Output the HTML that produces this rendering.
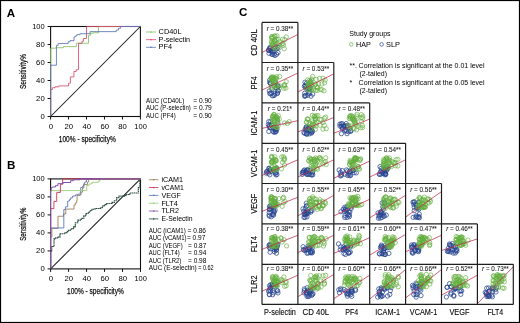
<!DOCTYPE html>
<html><head><meta charset="utf-8"><style>
html,body{margin:0;padding:0;background:#fff;}
body{width:520px;height:323px;overflow:hidden;}
svg{display:block;font-family:"Liberation Sans", sans-serif;will-change:transform;}
</style></head><body>
<svg width="520" height="323" viewBox="0 0 520 323" font-family='"Liberation Sans", sans-serif'>
<rect width="520" height="323" fill="#fff"/>
<text x="6.80" y="16.90" font-size="11.6" font-weight="bold" fill="#000">A</text>
<text x="6.90" y="168.80" font-size="11.6" font-weight="bold" fill="#000">B</text>
<text x="238.90" y="16.30" font-size="11.6" font-weight="bold" fill="#000">C</text>
<line x1="50.60" y1="116.50" x2="140.40" y2="26.50" stroke="#1a1a1a" stroke-width="1.05"/>
<rect x="50.60" y="26.50" width="89.80" height="90.00" fill="none" stroke="#111" stroke-width="1.1"/>
<polyline points="50.60,116.50 50.60,48.19 55.63,48.19 55.63,47.74 63.35,47.74 63.35,46.66 76.37,46.66 76.37,43.24 88.50,43.24 88.50,35.32 90.47,35.32 90.47,33.25 93.26,33.25 93.26,32.80 98.46,32.80 98.46,26.50 140.40,26.50" fill="none" stroke="#84c060" stroke-width="0.85" />
<polyline points="50.60,116.50 50.60,89.50 52.40,89.50 52.40,87.70 55.09,87.70 55.09,86.80 58.68,86.80 58.68,85.90 68.56,85.90 68.56,83.20 70.36,83.20 70.36,76.90 73.95,76.90 73.95,71.50 76.19,71.50 76.19,69.70 78.53,69.70 78.53,43.33 82.03,43.33 82.03,41.26 83.38,41.26 83.38,38.47 86.52,38.47 86.52,26.50 140.40,26.50" fill="none" stroke="#d84a6c" stroke-width="0.85" />
<polyline points="50.60,116.50 50.60,65.20 56.44,65.20 56.44,45.40 58.14,45.40 58.14,43.60 68.11,43.60 68.11,41.71 70.00,41.71 70.00,40.63 74.04,40.63 74.04,36.94 75.21,36.94 75.21,36.13 76.37,36.13 76.37,35.14 77.18,35.14 77.18,34.60 79.96,34.60 79.96,33.70 90.02,33.70 90.02,31.63 116.15,31.63 116.15,30.10 118.40,30.10 118.40,28.30 120.46,28.30 120.46,26.50 140.40,26.50" fill="none" stroke="#5a74b4" stroke-width="0.85" />
<line x1="47.60" y1="116.50" x2="50.60" y2="116.50" stroke="#111" stroke-width="1"/>
<line x1="50.60" y1="116.50" x2="50.60" y2="119.50" stroke="#111" stroke-width="1"/>
<text x="40.40" y="119.00" font-size="7.8" textLength="4.30" lengthAdjust="spacingAndGlyphs">0</text>
<text x="48.65" y="129.00" font-size="7.8" textLength="4.30" lengthAdjust="spacingAndGlyphs">0</text>
<line x1="47.60" y1="98.50" x2="50.60" y2="98.50" stroke="#111" stroke-width="1"/>
<line x1="68.56" y1="116.50" x2="68.56" y2="119.50" stroke="#111" stroke-width="1"/>
<text x="36.10" y="101.00" font-size="7.8" textLength="8.60" lengthAdjust="spacingAndGlyphs">20</text>
<text x="64.46" y="129.00" font-size="7.8" textLength="8.60" lengthAdjust="spacingAndGlyphs">20</text>
<line x1="47.60" y1="80.50" x2="50.60" y2="80.50" stroke="#111" stroke-width="1"/>
<line x1="86.52" y1="116.50" x2="86.52" y2="119.50" stroke="#111" stroke-width="1"/>
<text x="36.10" y="83.00" font-size="7.8" textLength="8.60" lengthAdjust="spacingAndGlyphs">40</text>
<text x="82.42" y="129.00" font-size="7.8" textLength="8.60" lengthAdjust="spacingAndGlyphs">40</text>
<line x1="47.60" y1="62.50" x2="50.60" y2="62.50" stroke="#111" stroke-width="1"/>
<line x1="104.48" y1="116.50" x2="104.48" y2="119.50" stroke="#111" stroke-width="1"/>
<text x="36.10" y="65.00" font-size="7.8" textLength="8.60" lengthAdjust="spacingAndGlyphs">60</text>
<text x="100.38" y="129.00" font-size="7.8" textLength="8.60" lengthAdjust="spacingAndGlyphs">60</text>
<line x1="47.60" y1="44.50" x2="50.60" y2="44.50" stroke="#111" stroke-width="1"/>
<line x1="122.44" y1="116.50" x2="122.44" y2="119.50" stroke="#111" stroke-width="1"/>
<text x="36.10" y="47.00" font-size="7.8" textLength="8.60" lengthAdjust="spacingAndGlyphs">80</text>
<text x="118.34" y="129.00" font-size="7.8" textLength="8.60" lengthAdjust="spacingAndGlyphs">80</text>
<line x1="47.60" y1="26.50" x2="50.60" y2="26.50" stroke="#111" stroke-width="1"/>
<line x1="140.40" y1="116.50" x2="140.40" y2="119.50" stroke="#111" stroke-width="1"/>
<text x="32.20" y="29.00" font-size="7.8" textLength="12.50" lengthAdjust="spacingAndGlyphs">100</text>
<text x="134.35" y="129.00" font-size="7.8" textLength="12.50" lengthAdjust="spacingAndGlyphs">100</text>
<text x="26.40" y="71.50" font-size="9.6" textLength="35.00" lengthAdjust="spacingAndGlyphs" text-anchor="middle" transform="rotate(-90 26.40 71.50)" style="stroke:#1a1a1a;stroke-width:0.25px">Sensitivity%</text>
<text x="58.80" y="141.80" font-size="9.6" textLength="57.00" lengthAdjust="spacingAndGlyphs" style="stroke:#1a1a1a;stroke-width:0.25px">100% - specificity%</text>
<line x1="146.00" y1="32.00" x2="156.00" y2="32.00" stroke="#84c060" stroke-width="0.8"/>
<rect x="150.3" y="31.40" width="1.3" height="1.2" fill="#84c060"/>
<text x="158.60" y="34.00" font-size="7.5" textLength="23.00" lengthAdjust="spacingAndGlyphs">CD40L</text>
<line x1="146.00" y1="39.65" x2="156.00" y2="39.65" stroke="#d84a6c" stroke-width="0.8"/>
<rect x="150.3" y="39.05" width="1.3" height="1.2" fill="#d84a6c"/>
<text x="158.60" y="41.65" font-size="7.5" textLength="31.50" lengthAdjust="spacingAndGlyphs">P-selectin</text>
<line x1="146.00" y1="47.30" x2="156.00" y2="47.30" stroke="#5a74b4" stroke-width="0.8"/>
<rect x="150.3" y="46.70" width="1.3" height="1.2" fill="#5a74b4"/>
<text x="158.60" y="49.30" font-size="7.5" textLength="13.50" lengthAdjust="spacingAndGlyphs">PF4</text>
<text x="146.00" y="102.90" font-size="6.6" textLength="38.30" lengthAdjust="spacingAndGlyphs">AUC (CD40L)</text>
<text x="193.20" y="102.90" font-size="6.6" textLength="18.60" lengthAdjust="spacingAndGlyphs">= 0.90</text>
<text x="146.00" y="110.20" font-size="6.6" textLength="44.80" lengthAdjust="spacingAndGlyphs">AUC (P-selectin)</text>
<text x="193.20" y="110.20" font-size="6.6" textLength="18.60" lengthAdjust="spacingAndGlyphs">= 0.79</text>
<text x="146.00" y="117.50" font-size="6.6" textLength="29.80" lengthAdjust="spacingAndGlyphs">AUC (PF4)</text>
<text x="193.20" y="117.50" font-size="6.6" textLength="18.60" lengthAdjust="spacingAndGlyphs">= 0.90</text>
<line x1="50.60" y1="268.90" x2="140.50" y2="178.90" stroke="#1a1a1a" stroke-width="1.05"/>
<rect x="50.60" y="178.90" width="89.90" height="90.00" fill="none" stroke="#111" stroke-width="1.1"/>
<polyline points="50.60,268.90 50.60,251.60 51.70,251.60 51.70,246.50 54.00,246.50 54.00,238.90 55.70,238.90 55.70,237.90 58.20,237.90 58.20,237.10 59.90,237.10 59.90,233.70 65.00,233.70 65.00,232.90 66.70,232.90 66.70,231.60 68.40,231.60 68.40,230.30 71.00,230.30 71.00,228.60 73.60,228.60 73.60,226.90 75.30,226.90 75.30,222.70 77.80,222.70 77.80,220.10 81.20,220.10 81.20,218.40 83.80,218.40 83.80,215.90 86.00,215.90 86.00,213.50 88.10,213.50 88.10,212.30 90.00,212.30 90.00,210.50 92.00,210.50 92.00,209.20 95.00,209.20 95.00,208.50 100.50,208.50 100.50,207.70 102.50,207.70 102.50,206.00 104.30,206.00 104.30,204.60 106.60,204.60 106.60,203.50 112.00,203.50 112.00,202.30 114.40,202.30 114.40,200.70 116.70,200.70 116.70,197.60 119.00,197.60 119.00,196.10 124.50,196.10 124.50,195.30 126.70,195.30 126.70,194.50 129.80,194.50 129.80,193.00 138.30,193.00 138.30,187.60 139.90,187.60 139.90,178.90 140.50,178.90" fill="none" stroke="#27493a" stroke-width="1.15" stroke-dasharray="1.4 0.45"/>
<polyline points="50.60,268.90 50.60,236.95 51.86,236.95 51.86,228.40 57.97,228.40 57.97,216.25 63.46,216.25 63.46,214.00 65.79,214.00 65.79,209.05 73.97,209.05 73.97,205.00 75.32,205.00 75.32,202.84 76.67,202.84 76.67,200.50 77.12,200.50 77.12,195.46 80.27,195.46 80.27,194.65 81.17,194.65 81.17,192.13 82.51,192.13 82.51,187.90 83.86,187.90 83.86,184.57 87.46,184.57 87.46,182.05 88.63,182.05 88.63,178.90 140.50,178.90" fill="none" stroke="#9a7a50" stroke-width="0.85" />
<polyline points="50.60,268.90 50.60,227.95 63.82,227.95 63.82,209.50 65.43,209.50 65.43,206.80 67.68,206.80 67.68,201.04 69.48,201.04 69.48,199.60 70.65,199.60 70.65,197.80 72.63,197.80 72.63,196.00 75.59,196.00 75.59,194.83 77.57,194.83 77.57,194.20 80.18,194.20 80.18,192.40 80.72,192.40 80.72,187.45 82.60,187.45 82.60,186.10 83.77,186.10 83.77,183.67 84.76,183.67 84.76,182.05 86.38,182.05 86.38,179.98 86.83,179.98 86.83,178.90 140.50,178.90" fill="none" stroke="#5070b8" stroke-width="0.85" />
<polyline points="50.60,268.90 50.60,190.60 86.74,190.60 86.74,185.65 87.91,185.65 87.91,185.20 89.26,185.20 89.26,183.85 91.95,183.85 91.95,182.32 98.25,182.32 98.25,181.15 99.60,181.15 99.60,179.80 101.39,179.80 101.39,178.90 140.50,178.90" fill="none" stroke="#90cc70" stroke-width="0.85" />
<polyline points="50.60,268.90 50.60,208.60 53.93,208.60 53.93,201.40 56.71,201.40 56.71,192.40 60.40,192.40 60.40,184.30 62.56,184.30 62.56,178.90 140.50,178.90" fill="none" stroke="#d02850" stroke-width="0.85" />
<polyline points="50.60,268.90 50.60,191.14 51.14,191.14 51.14,187.90 52.22,187.90 52.22,187.00 55.45,187.00 55.45,185.65 57.88,185.65 57.88,183.67 63.19,183.67 63.19,182.50 70.56,182.50 70.56,180.70 73.52,180.70 73.52,179.80 79.82,179.80 79.82,178.90 140.50,178.90" fill="none" stroke="#7f4fae" stroke-width="1.0" />
<line x1="47.60" y1="268.90" x2="50.60" y2="268.90" stroke="#111" stroke-width="1"/>
<line x1="50.60" y1="268.90" x2="50.60" y2="271.90" stroke="#111" stroke-width="1"/>
<text x="40.40" y="271.40" font-size="7.8" textLength="4.30" lengthAdjust="spacingAndGlyphs">0</text>
<text x="48.65" y="281.40" font-size="7.8" textLength="4.30" lengthAdjust="spacingAndGlyphs">0</text>
<line x1="47.60" y1="250.90" x2="50.60" y2="250.90" stroke="#111" stroke-width="1"/>
<line x1="68.58" y1="268.90" x2="68.58" y2="271.90" stroke="#111" stroke-width="1"/>
<text x="36.10" y="253.40" font-size="7.8" textLength="8.60" lengthAdjust="spacingAndGlyphs">20</text>
<text x="64.48" y="281.40" font-size="7.8" textLength="8.60" lengthAdjust="spacingAndGlyphs">20</text>
<line x1="47.60" y1="232.90" x2="50.60" y2="232.90" stroke="#111" stroke-width="1"/>
<line x1="86.56" y1="268.90" x2="86.56" y2="271.90" stroke="#111" stroke-width="1"/>
<text x="36.10" y="235.40" font-size="7.8" textLength="8.60" lengthAdjust="spacingAndGlyphs">40</text>
<text x="82.46" y="281.40" font-size="7.8" textLength="8.60" lengthAdjust="spacingAndGlyphs">40</text>
<line x1="47.60" y1="214.90" x2="50.60" y2="214.90" stroke="#111" stroke-width="1"/>
<line x1="104.54" y1="268.90" x2="104.54" y2="271.90" stroke="#111" stroke-width="1"/>
<text x="36.10" y="217.40" font-size="7.8" textLength="8.60" lengthAdjust="spacingAndGlyphs">60</text>
<text x="100.44" y="281.40" font-size="7.8" textLength="8.60" lengthAdjust="spacingAndGlyphs">60</text>
<line x1="47.60" y1="196.90" x2="50.60" y2="196.90" stroke="#111" stroke-width="1"/>
<line x1="122.52" y1="268.90" x2="122.52" y2="271.90" stroke="#111" stroke-width="1"/>
<text x="36.10" y="199.40" font-size="7.8" textLength="8.60" lengthAdjust="spacingAndGlyphs">80</text>
<text x="118.42" y="281.40" font-size="7.8" textLength="8.60" lengthAdjust="spacingAndGlyphs">80</text>
<line x1="47.60" y1="178.90" x2="50.60" y2="178.90" stroke="#111" stroke-width="1"/>
<line x1="140.50" y1="268.90" x2="140.50" y2="271.90" stroke="#111" stroke-width="1"/>
<text x="32.20" y="181.40" font-size="7.8" textLength="12.50" lengthAdjust="spacingAndGlyphs">100</text>
<text x="134.45" y="281.40" font-size="7.8" textLength="12.50" lengthAdjust="spacingAndGlyphs">100</text>
<text x="26.40" y="224.20" font-size="9.6" textLength="33.30" lengthAdjust="spacingAndGlyphs" text-anchor="middle" transform="rotate(-90 26.40 224.20)" style="stroke:#1a1a1a;stroke-width:0.25px">Sensitivity%</text>
<text x="67.00" y="294.00" font-size="9.6" textLength="56.80" lengthAdjust="spacingAndGlyphs" style="stroke:#1a1a1a;stroke-width:0.25px">100% - specificity%</text>
<line x1="148.90" y1="179.70" x2="158.40" y2="179.70" stroke="#9a7a50" stroke-width="0.8"/>
<rect x="153.0" y="179.10" width="1.3" height="1.2" fill="#9a7a50"/>
<text x="161.40" y="182.00" font-size="7.5" textLength="21.50" lengthAdjust="spacingAndGlyphs">iCAM1</text>
<line x1="148.90" y1="187.54" x2="158.40" y2="187.54" stroke="#d02850" stroke-width="0.8"/>
<rect x="153.0" y="186.94" width="1.3" height="1.2" fill="#d02850"/>
<text x="161.40" y="189.84" font-size="7.5" textLength="22.50" lengthAdjust="spacingAndGlyphs">vCAM1</text>
<line x1="148.90" y1="195.38" x2="158.40" y2="195.38" stroke="#5070b8" stroke-width="0.8"/>
<rect x="153.0" y="194.78" width="1.3" height="1.2" fill="#5070b8"/>
<text x="161.40" y="197.68" font-size="7.5" textLength="19.50" lengthAdjust="spacingAndGlyphs">VEGF</text>
<line x1="148.90" y1="203.22" x2="158.40" y2="203.22" stroke="#90cc70" stroke-width="0.8"/>
<rect x="153.0" y="202.62" width="1.3" height="1.2" fill="#90cc70"/>
<text x="161.40" y="205.52" font-size="7.5" textLength="16.50" lengthAdjust="spacingAndGlyphs">FLT4</text>
<line x1="148.90" y1="211.06" x2="158.40" y2="211.06" stroke="#7f4fae" stroke-width="0.8"/>
<rect x="153.0" y="210.46" width="1.3" height="1.2" fill="#7f4fae"/>
<text x="161.40" y="213.36" font-size="7.5" textLength="17.50" lengthAdjust="spacingAndGlyphs">TLR2</text>
<line x1="148.90" y1="218.90" x2="158.40" y2="218.90" stroke="#27493a" stroke-width="0.8"/>
<rect x="153.0" y="218.30" width="1.3" height="1.2" fill="#27493a"/>
<text x="161.40" y="221.20" font-size="7.5" textLength="31.20" lengthAdjust="spacingAndGlyphs">E-Selectin</text>
<text x="148.70" y="232.60" font-size="6.4" textLength="37.10" lengthAdjust="spacingAndGlyphs">AUC (iCAM1)</text>
<text x="187.60" y="232.60" font-size="6.4" textLength="18.40" lengthAdjust="spacingAndGlyphs">= 0.86</text>
<text x="148.70" y="240.10" font-size="6.4" textLength="37.90" lengthAdjust="spacingAndGlyphs">AUC (vCAM1)</text>
<text x="186.90" y="240.10" font-size="6.4" textLength="18.40" lengthAdjust="spacingAndGlyphs">= 0.97</text>
<text x="148.70" y="247.60" font-size="6.4" textLength="34.00" lengthAdjust="spacingAndGlyphs">AUC (VEGF)</text>
<text x="188.00" y="247.60" font-size="6.4" textLength="18.40" lengthAdjust="spacingAndGlyphs">= 0.87</text>
<text x="148.70" y="255.10" font-size="6.4" textLength="30.90" lengthAdjust="spacingAndGlyphs">AUC (FLT4)</text>
<text x="188.00" y="255.10" font-size="6.4" textLength="18.40" lengthAdjust="spacingAndGlyphs">= 0.94</text>
<text x="148.70" y="262.60" font-size="6.4" textLength="32.50" lengthAdjust="spacingAndGlyphs">AUC (TLR2)</text>
<text x="188.00" y="262.60" font-size="6.4" textLength="18.40" lengthAdjust="spacingAndGlyphs">= 0.98</text>
<text x="148.70" y="270.10" font-size="6.4" textLength="48.00" lengthAdjust="spacingAndGlyphs">AUC (E-selectin)</text>
<text x="198.20" y="270.10" font-size="6.4" textLength="15.50" lengthAdjust="spacingAndGlyphs">= 0.62</text>
<defs>
<clipPath id="c00"><rect x="262.00" y="22.45" width="35.90" height="40.05"/></clipPath>
<clipPath id="c10"><rect x="262.00" y="62.50" width="35.90" height="40.45"/></clipPath>
<clipPath id="c11"><rect x="297.90" y="62.50" width="35.90" height="40.45"/></clipPath>
<clipPath id="c20"><rect x="262.00" y="102.95" width="35.90" height="40.35"/></clipPath>
<clipPath id="c21"><rect x="297.90" y="102.95" width="35.90" height="40.35"/></clipPath>
<clipPath id="c22"><rect x="333.80" y="102.95" width="35.90" height="40.35"/></clipPath>
<clipPath id="c30"><rect x="262.00" y="143.30" width="35.90" height="40.20"/></clipPath>
<clipPath id="c31"><rect x="297.90" y="143.30" width="35.90" height="40.20"/></clipPath>
<clipPath id="c32"><rect x="333.80" y="143.30" width="35.90" height="40.20"/></clipPath>
<clipPath id="c33"><rect x="369.70" y="143.30" width="35.90" height="40.20"/></clipPath>
<clipPath id="c40"><rect x="262.00" y="183.50" width="35.90" height="40.45"/></clipPath>
<clipPath id="c41"><rect x="297.90" y="183.50" width="35.90" height="40.45"/></clipPath>
<clipPath id="c42"><rect x="333.80" y="183.50" width="35.90" height="40.45"/></clipPath>
<clipPath id="c43"><rect x="369.70" y="183.50" width="35.90" height="40.45"/></clipPath>
<clipPath id="c44"><rect x="405.60" y="183.50" width="35.90" height="40.45"/></clipPath>
<clipPath id="c50"><rect x="262.00" y="223.95" width="35.90" height="40.35"/></clipPath>
<clipPath id="c51"><rect x="297.90" y="223.95" width="35.90" height="40.35"/></clipPath>
<clipPath id="c52"><rect x="333.80" y="223.95" width="35.90" height="40.35"/></clipPath>
<clipPath id="c53"><rect x="369.70" y="223.95" width="35.90" height="40.35"/></clipPath>
<clipPath id="c54"><rect x="405.60" y="223.95" width="35.90" height="40.35"/></clipPath>
<clipPath id="c55"><rect x="441.50" y="223.95" width="35.90" height="40.35"/></clipPath>
<clipPath id="c60"><rect x="262.00" y="264.30" width="35.90" height="40.10"/></clipPath>
<clipPath id="c61"><rect x="297.90" y="264.30" width="35.90" height="40.10"/></clipPath>
<clipPath id="c62"><rect x="333.80" y="264.30" width="35.90" height="40.10"/></clipPath>
<clipPath id="c63"><rect x="369.70" y="264.30" width="35.90" height="40.10"/></clipPath>
<clipPath id="c64"><rect x="405.60" y="264.30" width="35.90" height="40.10"/></clipPath>
<clipPath id="c65"><rect x="441.50" y="264.30" width="35.90" height="40.10"/></clipPath>
<clipPath id="c66"><rect x="477.40" y="264.30" width="35.90" height="40.10"/></clipPath>
</defs>
<g clip-path="url(#c00)" fill="none" stroke-width="0.65">
<g stroke="#284690" stroke-width="0.75">
<circle cx="274.9" cy="55.5" r="2.15"/>
<circle cx="276.7" cy="48.8" r="2.15"/>
<circle cx="272.3" cy="52.4" r="2.15"/>
<circle cx="268.7" cy="50.4" r="2.15"/>
<circle cx="270.1" cy="47.2" r="2.15"/>
<circle cx="269.0" cy="53.3" r="2.15"/>
<circle cx="269.7" cy="48.4" r="2.15"/>
<circle cx="272.4" cy="54.3" r="2.15"/>
<circle cx="269.3" cy="50.3" r="2.15"/>
<circle cx="273.9" cy="54.4" r="2.15"/>
<circle cx="276.6" cy="54.3" r="2.15"/>
<circle cx="271.2" cy="50.0" r="2.15"/>
<circle cx="272.0" cy="54.4" r="2.15"/>
<circle cx="278.0" cy="47.5" r="2.15"/>
<circle cx="270.2" cy="48.3" r="2.15"/>
<circle cx="270.8" cy="50.7" r="2.15"/>
<circle cx="274.3" cy="48.5" r="2.15"/>
<circle cx="268.5" cy="50.0" r="2.15"/>
<circle cx="272.1" cy="51.4" r="2.15"/>
<circle cx="278.0" cy="52.6" r="2.15"/>
<circle cx="273.6" cy="51.9" r="2.15"/>
<circle cx="275.2" cy="46.6" r="2.15"/>
</g>
<g stroke="#64ae40">
<circle cx="273.2" cy="37.3" r="2.15"/>
<circle cx="275.1" cy="36.2" r="2.15"/>
<circle cx="274.5" cy="40.5" r="2.15"/>
<circle cx="271.7" cy="42.5" r="2.15"/>
<circle cx="271.6" cy="41.4" r="2.15"/>
<circle cx="271.8" cy="36.5" r="2.15"/>
<circle cx="273.8" cy="47.1" r="2.15"/>
<circle cx="272.1" cy="38.4" r="2.15"/>
<circle cx="275.0" cy="48.9" r="2.15"/>
<circle cx="274.7" cy="40.9" r="2.15"/>
<circle cx="277.0" cy="35.8" r="2.15"/>
<circle cx="276.3" cy="39.3" r="2.15"/>
<circle cx="272.2" cy="36.9" r="2.15"/>
<circle cx="273.1" cy="47.0" r="2.15"/>
<circle cx="272.4" cy="43.6" r="2.15"/>
<circle cx="275.1" cy="40.5" r="2.15"/>
<circle cx="274.5" cy="36.1" r="2.15"/>
<circle cx="271.7" cy="38.1" r="2.15"/>
<circle cx="275.3" cy="41.4" r="2.15"/>
<circle cx="273.2" cy="43.6" r="2.15"/>
<circle cx="278.3" cy="39.5" r="2.15"/>
<circle cx="283.5" cy="45.3" r="2.15"/>
<circle cx="275.1" cy="43.5" r="2.15"/>
<circle cx="279.4" cy="47.8" r="2.15"/>
<circle cx="282.5" cy="39.3" r="2.15"/>
<circle cx="286.3" cy="36.9" r="2.15"/>
<circle cx="277.7" cy="46.1" r="2.15"/>
<circle cx="273.7" cy="42.2" r="2.15"/>
<circle cx="271.9" cy="44.8" r="2.15"/>
<circle cx="283.0" cy="43.5" r="2.15"/>
<circle cx="284.7" cy="39.7" r="2.15"/>
<circle cx="282.0" cy="43.8" r="2.15"/>
<circle cx="280.2" cy="41.8" r="2.15"/>
<circle cx="284.2" cy="48.8" r="2.15"/>
<circle cx="278.6" cy="44.8" r="2.15"/>
<circle cx="272.3" cy="45.3" r="2.15"/>
</g>
<line x1="262.00" y1="52.49" x2="297.90" y2="34.46" stroke="#c22c4c" stroke-width="0.75"/>
</g>
<text x="266.65" y="30.60" font-size="6.4" textLength="26.6" lengthAdjust="spacingAndGlyphs" fill="#1a1a1a" style="stroke:#1a1a1a;stroke-width:0.08px"><tspan font-style="italic">r</tspan> = 0.38**</text>
<g clip-path="url(#c10)" fill="none" stroke-width="0.65">
<g stroke="#284690" stroke-width="0.75">
<circle cx="277.9" cy="86.0" r="2.15"/>
<circle cx="270.6" cy="83.7" r="2.15"/>
<circle cx="270.4" cy="83.3" r="2.15"/>
<circle cx="274.6" cy="95.0" r="2.15"/>
<circle cx="276.8" cy="87.9" r="2.15"/>
<circle cx="274.9" cy="93.3" r="2.15"/>
<circle cx="269.3" cy="90.9" r="2.15"/>
<circle cx="277.5" cy="93.0" r="2.15"/>
<circle cx="275.9" cy="87.9" r="2.15"/>
<circle cx="270.2" cy="93.1" r="2.15"/>
<circle cx="271.7" cy="93.3" r="2.15"/>
<circle cx="278.1" cy="86.5" r="2.15"/>
<circle cx="272.4" cy="95.8" r="2.15"/>
<circle cx="275.6" cy="82.7" r="2.15"/>
<circle cx="269.7" cy="82.4" r="2.15"/>
<circle cx="277.4" cy="93.4" r="2.15"/>
<circle cx="269.9" cy="93.7" r="2.15"/>
<circle cx="278.2" cy="90.9" r="2.15"/>
<circle cx="271.9" cy="89.1" r="2.15"/>
<circle cx="269.7" cy="80.1" r="2.15"/>
<circle cx="278.1" cy="90.8" r="2.15"/>
<circle cx="273.7" cy="95.5" r="2.15"/>
</g>
<g stroke="#64ae40">
<circle cx="276.5" cy="85.7" r="2.15"/>
<circle cx="276.4" cy="85.9" r="2.15"/>
<circle cx="273.5" cy="81.1" r="2.15"/>
<circle cx="271.8" cy="83.9" r="2.15"/>
<circle cx="271.5" cy="77.1" r="2.15"/>
<circle cx="272.4" cy="78.2" r="2.15"/>
<circle cx="273.2" cy="76.9" r="2.15"/>
<circle cx="271.2" cy="78.1" r="2.15"/>
<circle cx="271.8" cy="80.6" r="2.15"/>
<circle cx="271.3" cy="86.8" r="2.15"/>
<circle cx="274.8" cy="78.0" r="2.15"/>
<circle cx="272.7" cy="80.5" r="2.15"/>
<circle cx="273.3" cy="77.7" r="2.15"/>
<circle cx="276.2" cy="88.3" r="2.15"/>
<circle cx="273.9" cy="82.1" r="2.15"/>
<circle cx="271.7" cy="77.5" r="2.15"/>
<circle cx="273.2" cy="79.5" r="2.15"/>
<circle cx="276.1" cy="78.2" r="2.15"/>
<circle cx="271.3" cy="87.8" r="2.15"/>
<circle cx="274.3" cy="78.0" r="2.15"/>
<circle cx="279.7" cy="76.6" r="2.15"/>
<circle cx="279.4" cy="88.1" r="2.15"/>
<circle cx="284.7" cy="84.7" r="2.15"/>
<circle cx="275.2" cy="80.7" r="2.15"/>
<circle cx="273.8" cy="85.6" r="2.15"/>
<circle cx="279.5" cy="85.7" r="2.15"/>
<circle cx="276.3" cy="78.9" r="2.15"/>
<circle cx="283.9" cy="88.2" r="2.15"/>
<circle cx="284.5" cy="86.0" r="2.15"/>
<circle cx="284.0" cy="85.2" r="2.15"/>
<circle cx="274.7" cy="82.5" r="2.15"/>
<circle cx="276.7" cy="76.6" r="2.15"/>
<circle cx="271.6" cy="79.6" r="2.15"/>
<circle cx="275.2" cy="84.6" r="2.15"/>
<circle cx="286.2" cy="81.7" r="2.15"/>
<circle cx="285.9" cy="88.2" r="2.15"/>
</g>
<line x1="262.00" y1="90.01" x2="297.90" y2="73.02" stroke="#c22c4c" stroke-width="0.75"/>
</g>
<text x="266.65" y="71.20" font-size="6.4" textLength="26.6" lengthAdjust="spacingAndGlyphs" fill="#1a1a1a" style="stroke:#1a1a1a;stroke-width:0.08px"><tspan font-style="italic">r</tspan> = 0.35**</text>
<g clip-path="url(#c11)" fill="none" stroke-width="0.65">
<g stroke="#284690" stroke-width="0.75">
<circle cx="307.6" cy="88.8" r="2.15"/>
<circle cx="312.7" cy="94.1" r="2.15"/>
<circle cx="305.6" cy="88.0" r="2.15"/>
<circle cx="308.6" cy="86.5" r="2.15"/>
<circle cx="305.9" cy="86.2" r="2.15"/>
<circle cx="310.4" cy="81.6" r="2.15"/>
<circle cx="309.0" cy="88.1" r="2.15"/>
<circle cx="304.4" cy="86.4" r="2.15"/>
<circle cx="309.6" cy="89.2" r="2.15"/>
<circle cx="304.8" cy="96.4" r="2.15"/>
<circle cx="311.0" cy="96.2" r="2.15"/>
<circle cx="305.1" cy="85.4" r="2.15"/>
<circle cx="304.6" cy="93.3" r="2.15"/>
<circle cx="306.5" cy="83.3" r="2.15"/>
<circle cx="307.8" cy="95.3" r="2.15"/>
<circle cx="311.2" cy="85.3" r="2.15"/>
<circle cx="305.5" cy="95.4" r="2.15"/>
<circle cx="309.1" cy="92.1" r="2.15"/>
<circle cx="305.0" cy="82.2" r="2.15"/>
<circle cx="310.1" cy="87.9" r="2.15"/>
<circle cx="304.9" cy="95.7" r="2.15"/>
<circle cx="309.6" cy="93.6" r="2.15"/>
</g>
<g stroke="#64ae40">
<circle cx="311.5" cy="89.3" r="2.15"/>
<circle cx="316.2" cy="79.4" r="2.15"/>
<circle cx="309.3" cy="80.6" r="2.15"/>
<circle cx="309.2" cy="85.0" r="2.15"/>
<circle cx="309.4" cy="82.5" r="2.15"/>
<circle cx="307.8" cy="89.9" r="2.15"/>
<circle cx="310.5" cy="83.1" r="2.15"/>
<circle cx="313.3" cy="89.8" r="2.15"/>
<circle cx="311.3" cy="90.0" r="2.15"/>
<circle cx="312.3" cy="84.2" r="2.15"/>
<circle cx="312.6" cy="76.5" r="2.15"/>
<circle cx="311.6" cy="79.0" r="2.15"/>
<circle cx="306.3" cy="88.2" r="2.15"/>
<circle cx="308.3" cy="83.4" r="2.15"/>
<circle cx="315.0" cy="84.6" r="2.15"/>
<circle cx="310.2" cy="84.0" r="2.15"/>
<circle cx="317.4" cy="88.0" r="2.15"/>
<circle cx="308.4" cy="84.7" r="2.15"/>
<circle cx="311.2" cy="80.4" r="2.15"/>
<circle cx="321.8" cy="83.9" r="2.15"/>
<circle cx="317.5" cy="87.6" r="2.15"/>
<circle cx="324.6" cy="82.9" r="2.15"/>
<circle cx="318.6" cy="83.8" r="2.15"/>
<circle cx="316.5" cy="86.6" r="2.15"/>
<circle cx="315.3" cy="84.2" r="2.15"/>
<circle cx="315.9" cy="90.4" r="2.15"/>
<circle cx="320.3" cy="89.4" r="2.15"/>
<circle cx="325.2" cy="80.1" r="2.15"/>
<circle cx="317.5" cy="90.4" r="2.15"/>
<circle cx="323.1" cy="78.3" r="2.15"/>
<circle cx="308.7" cy="82.9" r="2.15"/>
<circle cx="307.7" cy="79.9" r="2.15"/>
<circle cx="307.7" cy="86.3" r="2.15"/>
<circle cx="322.0" cy="89.7" r="2.15"/>
<circle cx="309.4" cy="87.0" r="2.15"/>
<circle cx="319.5" cy="78.4" r="2.15"/>
<circle cx="324.0" cy="90.8" r="2.15"/>
<circle cx="310.7" cy="90.5" r="2.15"/>
</g>
<line x1="297.90" y1="92.03" x2="333.80" y2="73.83" stroke="#c22c4c" stroke-width="0.75"/>
</g>
<text x="302.55" y="71.20" font-size="6.4" textLength="26.6" lengthAdjust="spacingAndGlyphs" fill="#1a1a1a" style="stroke:#1a1a1a;stroke-width:0.08px"><tspan font-style="italic">r</tspan> = 0.53**</text>
<g clip-path="url(#c20)" fill="none" stroke-width="0.65">
<g stroke="#284690" stroke-width="0.75">
<circle cx="273.0" cy="127.5" r="2.15"/>
<circle cx="270.3" cy="127.5" r="2.15"/>
<circle cx="268.4" cy="124.6" r="2.15"/>
<circle cx="269.2" cy="126.2" r="2.15"/>
<circle cx="268.8" cy="121.6" r="2.15"/>
<circle cx="271.3" cy="124.2" r="2.15"/>
<circle cx="274.0" cy="127.8" r="2.15"/>
<circle cx="275.6" cy="129.4" r="2.15"/>
<circle cx="275.3" cy="132.1" r="2.15"/>
<circle cx="272.1" cy="125.3" r="2.15"/>
<circle cx="277.9" cy="123.2" r="2.15"/>
<circle cx="275.4" cy="129.2" r="2.15"/>
<circle cx="268.8" cy="131.5" r="2.15"/>
<circle cx="277.0" cy="129.0" r="2.15"/>
<circle cx="275.5" cy="131.3" r="2.15"/>
<circle cx="269.7" cy="127.7" r="2.15"/>
<circle cx="273.2" cy="131.5" r="2.15"/>
<circle cx="276.2" cy="131.4" r="2.15"/>
<circle cx="274.0" cy="132.2" r="2.15"/>
<circle cx="275.0" cy="129.8" r="2.15"/>
<circle cx="270.6" cy="121.7" r="2.15"/>
<circle cx="269.6" cy="125.8" r="2.15"/>
</g>
<g stroke="#64ae40">
<circle cx="272.6" cy="125.9" r="2.15"/>
<circle cx="272.5" cy="126.0" r="2.15"/>
<circle cx="275.1" cy="118.9" r="2.15"/>
<circle cx="275.7" cy="126.9" r="2.15"/>
<circle cx="273.8" cy="116.0" r="2.15"/>
<circle cx="275.6" cy="117.5" r="2.15"/>
<circle cx="272.8" cy="116.4" r="2.15"/>
<circle cx="272.4" cy="117.0" r="2.15"/>
<circle cx="274.1" cy="118.4" r="2.15"/>
<circle cx="277.1" cy="118.2" r="2.15"/>
<circle cx="275.4" cy="116.7" r="2.15"/>
<circle cx="274.4" cy="114.5" r="2.15"/>
<circle cx="273.7" cy="114.5" r="2.15"/>
<circle cx="277.0" cy="121.7" r="2.15"/>
<circle cx="273.3" cy="120.7" r="2.15"/>
<circle cx="278.3" cy="115.7" r="2.15"/>
<circle cx="277.5" cy="120.1" r="2.15"/>
<circle cx="275.4" cy="125.6" r="2.15"/>
<circle cx="274.7" cy="121.1" r="2.15"/>
<circle cx="276.6" cy="127.6" r="2.15"/>
<circle cx="278.1" cy="125.6" r="2.15"/>
<circle cx="284.5" cy="122.9" r="2.15"/>
<circle cx="279.2" cy="119.0" r="2.15"/>
<circle cx="273.0" cy="116.0" r="2.15"/>
<circle cx="273.3" cy="124.3" r="2.15"/>
<circle cx="276.5" cy="116.5" r="2.15"/>
<circle cx="273.5" cy="125.7" r="2.15"/>
<circle cx="287.4" cy="123.4" r="2.15"/>
<circle cx="277.0" cy="117.5" r="2.15"/>
<circle cx="277.2" cy="120.5" r="2.15"/>
<circle cx="274.8" cy="120.3" r="2.15"/>
<circle cx="276.7" cy="127.3" r="2.15"/>
<circle cx="289.2" cy="121.7" r="2.15"/>
<circle cx="276.4" cy="127.4" r="2.15"/>
<circle cx="277.5" cy="119.1" r="2.15"/>
<circle cx="272.1" cy="119.4" r="2.15"/>
</g>
<line x1="262.00" y1="128.37" x2="297.90" y2="120.70" stroke="#c22c4c" stroke-width="0.75"/>
</g>
<text x="267.85" y="110.90" font-size="6.4" textLength="24.2" lengthAdjust="spacingAndGlyphs" fill="#1a1a1a" style="stroke:#1a1a1a;stroke-width:0.08px"><tspan font-style="italic">r</tspan> = 0.21*</text>
<g clip-path="url(#c21)" fill="none" stroke-width="0.65">
<g stroke="#284690" stroke-width="0.75">
<circle cx="305.1" cy="129.4" r="2.15"/>
<circle cx="306.6" cy="133.3" r="2.15"/>
<circle cx="303.9" cy="132.6" r="2.15"/>
<circle cx="311.2" cy="127.7" r="2.15"/>
<circle cx="311.9" cy="132.3" r="2.15"/>
<circle cx="311.7" cy="129.0" r="2.15"/>
<circle cx="307.1" cy="129.8" r="2.15"/>
<circle cx="312.5" cy="131.3" r="2.15"/>
<circle cx="307.0" cy="130.1" r="2.15"/>
<circle cx="306.2" cy="127.1" r="2.15"/>
<circle cx="304.7" cy="133.3" r="2.15"/>
<circle cx="306.3" cy="134.0" r="2.15"/>
<circle cx="306.0" cy="128.8" r="2.15"/>
<circle cx="308.3" cy="128.2" r="2.15"/>
<circle cx="307.1" cy="134.2" r="2.15"/>
<circle cx="311.5" cy="133.1" r="2.15"/>
<circle cx="309.3" cy="133.9" r="2.15"/>
<circle cx="312.0" cy="131.0" r="2.15"/>
<circle cx="310.1" cy="127.1" r="2.15"/>
<circle cx="310.2" cy="130.3" r="2.15"/>
<circle cx="310.4" cy="131.8" r="2.15"/>
<circle cx="306.3" cy="127.1" r="2.15"/>
</g>
<g stroke="#64ae40">
<circle cx="307.6" cy="127.3" r="2.15"/>
<circle cx="313.2" cy="124.3" r="2.15"/>
<circle cx="314.0" cy="125.1" r="2.15"/>
<circle cx="312.3" cy="115.4" r="2.15"/>
<circle cx="316.1" cy="126.1" r="2.15"/>
<circle cx="312.5" cy="123.0" r="2.15"/>
<circle cx="314.4" cy="116.3" r="2.15"/>
<circle cx="315.3" cy="119.0" r="2.15"/>
<circle cx="307.3" cy="119.1" r="2.15"/>
<circle cx="315.2" cy="118.3" r="2.15"/>
<circle cx="315.4" cy="129.3" r="2.15"/>
<circle cx="312.4" cy="120.8" r="2.15"/>
<circle cx="312.2" cy="125.1" r="2.15"/>
<circle cx="315.7" cy="124.2" r="2.15"/>
<circle cx="314.2" cy="116.5" r="2.15"/>
<circle cx="308.1" cy="119.0" r="2.15"/>
<circle cx="321.4" cy="119.7" r="2.15"/>
<circle cx="317.9" cy="115.5" r="2.15"/>
<circle cx="307.6" cy="119.2" r="2.15"/>
<circle cx="320.0" cy="125.2" r="2.15"/>
<circle cx="320.1" cy="119.5" r="2.15"/>
<circle cx="316.8" cy="122.0" r="2.15"/>
<circle cx="315.8" cy="117.0" r="2.15"/>
<circle cx="324.5" cy="118.2" r="2.15"/>
<circle cx="326.2" cy="128.7" r="2.15"/>
<circle cx="306.7" cy="121.9" r="2.15"/>
<circle cx="323.0" cy="129.2" r="2.15"/>
<circle cx="315.5" cy="119.2" r="2.15"/>
<circle cx="310.6" cy="128.9" r="2.15"/>
<circle cx="310.6" cy="123.7" r="2.15"/>
<circle cx="309.2" cy="122.8" r="2.15"/>
<circle cx="325.7" cy="117.2" r="2.15"/>
<circle cx="323.0" cy="122.6" r="2.15"/>
<circle cx="324.4" cy="125.4" r="2.15"/>
<circle cx="311.0" cy="128.2" r="2.15"/>
<circle cx="316.2" cy="115.7" r="2.15"/>
<circle cx="306.4" cy="122.4" r="2.15"/>
<circle cx="315.5" cy="119.7" r="2.15"/>
</g>
<line x1="297.90" y1="132.00" x2="333.80" y2="117.48" stroke="#c22c4c" stroke-width="0.75"/>
</g>
<text x="302.55" y="110.90" font-size="6.4" textLength="26.6" lengthAdjust="spacingAndGlyphs" fill="#1a1a1a" style="stroke:#1a1a1a;stroke-width:0.08px"><tspan font-style="italic">r</tspan> = 0.44**</text>
<g clip-path="url(#c22)" fill="none" stroke-width="0.65">
<g stroke="#284690" stroke-width="0.75">
<circle cx="341.4" cy="133.7" r="2.15"/>
<circle cx="346.7" cy="126.8" r="2.15"/>
<circle cx="340.0" cy="126.2" r="2.15"/>
<circle cx="346.6" cy="131.2" r="2.15"/>
<circle cx="339.8" cy="124.2" r="2.15"/>
<circle cx="345.2" cy="129.9" r="2.15"/>
<circle cx="343.4" cy="125.9" r="2.15"/>
<circle cx="346.2" cy="123.6" r="2.15"/>
<circle cx="342.3" cy="128.6" r="2.15"/>
<circle cx="350.8" cy="130.6" r="2.15"/>
<circle cx="349.8" cy="128.7" r="2.15"/>
<circle cx="341.4" cy="126.2" r="2.15"/>
<circle cx="350.8" cy="131.3" r="2.15"/>
<circle cx="342.3" cy="123.7" r="2.15"/>
<circle cx="344.8" cy="130.9" r="2.15"/>
<circle cx="343.8" cy="126.3" r="2.15"/>
<circle cx="347.0" cy="133.7" r="2.15"/>
<circle cx="341.3" cy="123.8" r="2.15"/>
<circle cx="342.7" cy="128.1" r="2.15"/>
<circle cx="347.2" cy="125.6" r="2.15"/>
<circle cx="348.7" cy="131.7" r="2.15"/>
<circle cx="344.9" cy="125.7" r="2.15"/>
</g>
<g stroke="#64ae40">
<circle cx="356.6" cy="116.2" r="2.15"/>
<circle cx="352.6" cy="119.6" r="2.15"/>
<circle cx="351.0" cy="125.9" r="2.15"/>
<circle cx="357.1" cy="118.3" r="2.15"/>
<circle cx="354.2" cy="119.0" r="2.15"/>
<circle cx="353.3" cy="120.4" r="2.15"/>
<circle cx="349.8" cy="116.8" r="2.15"/>
<circle cx="350.2" cy="128.5" r="2.15"/>
<circle cx="352.8" cy="117.7" r="2.15"/>
<circle cx="356.5" cy="129.9" r="2.15"/>
<circle cx="352.4" cy="116.4" r="2.15"/>
<circle cx="350.1" cy="115.7" r="2.15"/>
<circle cx="351.4" cy="115.7" r="2.15"/>
<circle cx="350.5" cy="118.3" r="2.15"/>
<circle cx="353.4" cy="128.2" r="2.15"/>
<circle cx="355.1" cy="120.7" r="2.15"/>
<circle cx="354.5" cy="122.5" r="2.15"/>
<circle cx="354.0" cy="119.6" r="2.15"/>
<circle cx="349.3" cy="118.6" r="2.15"/>
<circle cx="362.8" cy="116.2" r="2.15"/>
<circle cx="355.9" cy="124.1" r="2.15"/>
<circle cx="361.2" cy="117.6" r="2.15"/>
<circle cx="352.4" cy="118.2" r="2.15"/>
<circle cx="354.3" cy="121.2" r="2.15"/>
<circle cx="362.6" cy="127.6" r="2.15"/>
<circle cx="361.4" cy="114.6" r="2.15"/>
<circle cx="348.8" cy="125.4" r="2.15"/>
<circle cx="361.7" cy="121.7" r="2.15"/>
<circle cx="357.1" cy="114.3" r="2.15"/>
<circle cx="354.2" cy="128.8" r="2.15"/>
<circle cx="360.7" cy="127.7" r="2.15"/>
<circle cx="362.8" cy="118.2" r="2.15"/>
<circle cx="350.0" cy="116.7" r="2.15"/>
<circle cx="356.1" cy="125.0" r="2.15"/>
<circle cx="362.4" cy="125.6" r="2.15"/>
<circle cx="358.0" cy="126.3" r="2.15"/>
<circle cx="355.2" cy="122.9" r="2.15"/>
<circle cx="348.9" cy="126.5" r="2.15"/>
</g>
<line x1="333.80" y1="133.21" x2="369.70" y2="119.09" stroke="#c22c4c" stroke-width="0.75"/>
</g>
<text x="338.45" y="110.90" font-size="6.4" textLength="26.6" lengthAdjust="spacingAndGlyphs" fill="#1a1a1a" style="stroke:#1a1a1a;stroke-width:0.08px"><tspan font-style="italic">r</tspan> = 0.48**</text>
<g clip-path="url(#c30)" fill="none" stroke-width="0.65">
<g stroke="#284690" stroke-width="0.75">
<circle cx="269.7" cy="169.8" r="2.15"/>
<circle cx="266.2" cy="173.2" r="2.15"/>
<circle cx="276.4" cy="172.4" r="2.15"/>
<circle cx="276.7" cy="168.0" r="2.15"/>
<circle cx="268.8" cy="171.2" r="2.15"/>
<circle cx="276.9" cy="174.6" r="2.15"/>
<circle cx="270.5" cy="169.6" r="2.15"/>
<circle cx="271.0" cy="171.4" r="2.15"/>
<circle cx="276.5" cy="169.1" r="2.15"/>
<circle cx="275.1" cy="173.1" r="2.15"/>
<circle cx="275.4" cy="173.3" r="2.15"/>
<circle cx="273.0" cy="170.2" r="2.15"/>
<circle cx="269.7" cy="170.4" r="2.15"/>
<circle cx="274.9" cy="168.4" r="2.15"/>
<circle cx="268.4" cy="173.2" r="2.15"/>
<circle cx="268.9" cy="168.3" r="2.15"/>
<circle cx="266.5" cy="171.8" r="2.15"/>
<circle cx="269.8" cy="174.8" r="2.15"/>
<circle cx="276.0" cy="174.9" r="2.15"/>
<circle cx="269.1" cy="168.4" r="2.15"/>
<circle cx="267.2" cy="171.4" r="2.15"/>
<circle cx="274.1" cy="171.0" r="2.15"/>
</g>
<g stroke="#64ae40">
<circle cx="276.1" cy="160.7" r="2.15"/>
<circle cx="275.3" cy="159.6" r="2.15"/>
<circle cx="272.1" cy="167.0" r="2.15"/>
<circle cx="272.5" cy="169.7" r="2.15"/>
<circle cx="273.6" cy="159.0" r="2.15"/>
<circle cx="272.1" cy="162.2" r="2.15"/>
<circle cx="274.5" cy="169.6" r="2.15"/>
<circle cx="271.7" cy="161.9" r="2.15"/>
<circle cx="272.1" cy="170.0" r="2.15"/>
<circle cx="271.7" cy="157.1" r="2.15"/>
<circle cx="271.3" cy="161.9" r="2.15"/>
<circle cx="275.8" cy="168.7" r="2.15"/>
<circle cx="274.9" cy="170.3" r="2.15"/>
<circle cx="275.9" cy="161.0" r="2.15"/>
<circle cx="271.9" cy="169.5" r="2.15"/>
<circle cx="274.9" cy="156.8" r="2.15"/>
<circle cx="274.5" cy="161.7" r="2.15"/>
<circle cx="273.0" cy="161.0" r="2.15"/>
<circle cx="271.9" cy="156.4" r="2.15"/>
<circle cx="272.4" cy="161.3" r="2.15"/>
<circle cx="284.4" cy="158.1" r="2.15"/>
<circle cx="284.5" cy="159.3" r="2.15"/>
<circle cx="276.0" cy="167.9" r="2.15"/>
<circle cx="282.5" cy="162.4" r="2.15"/>
<circle cx="271.6" cy="163.0" r="2.15"/>
<circle cx="276.2" cy="169.2" r="2.15"/>
<circle cx="273.7" cy="161.4" r="2.15"/>
<circle cx="283.6" cy="156.8" r="2.15"/>
<circle cx="276.7" cy="167.7" r="2.15"/>
<circle cx="281.8" cy="156.9" r="2.15"/>
<circle cx="271.4" cy="157.2" r="2.15"/>
<circle cx="283.9" cy="159.9" r="2.15"/>
<circle cx="281.5" cy="168.9" r="2.15"/>
<circle cx="275.7" cy="160.2" r="2.15"/>
<circle cx="284.5" cy="165.0" r="2.15"/>
<circle cx="274.6" cy="166.4" r="2.15"/>
</g>
<line x1="262.00" y1="175.46" x2="297.90" y2="159.78" stroke="#c22c4c" stroke-width="0.75"/>
</g>
<text x="266.65" y="152.20" font-size="6.4" textLength="26.6" lengthAdjust="spacingAndGlyphs" fill="#1a1a1a" style="stroke:#1a1a1a;stroke-width:0.08px"><tspan font-style="italic">r</tspan> = 0.45**</text>
<g clip-path="url(#c31)" fill="none" stroke-width="0.65">
<g stroke="#284690" stroke-width="0.75">
<circle cx="305.7" cy="172.5" r="2.15"/>
<circle cx="306.2" cy="171.6" r="2.15"/>
<circle cx="311.9" cy="174.9" r="2.15"/>
<circle cx="306.3" cy="170.4" r="2.15"/>
<circle cx="310.4" cy="170.4" r="2.15"/>
<circle cx="302.2" cy="174.4" r="2.15"/>
<circle cx="306.9" cy="173.9" r="2.15"/>
<circle cx="306.7" cy="174.3" r="2.15"/>
<circle cx="307.4" cy="170.2" r="2.15"/>
<circle cx="302.3" cy="172.4" r="2.15"/>
<circle cx="309.4" cy="174.4" r="2.15"/>
<circle cx="303.2" cy="172.8" r="2.15"/>
<circle cx="306.3" cy="172.1" r="2.15"/>
<circle cx="303.8" cy="170.9" r="2.15"/>
<circle cx="308.0" cy="174.5" r="2.15"/>
<circle cx="303.4" cy="172.0" r="2.15"/>
<circle cx="311.2" cy="174.8" r="2.15"/>
<circle cx="304.4" cy="170.0" r="2.15"/>
<circle cx="312.8" cy="174.8" r="2.15"/>
<circle cx="307.6" cy="169.6" r="2.15"/>
<circle cx="312.6" cy="171.5" r="2.15"/>
<circle cx="312.4" cy="172.8" r="2.15"/>
</g>
<g stroke="#64ae40">
<circle cx="310.9" cy="162.2" r="2.15"/>
<circle cx="315.2" cy="165.8" r="2.15"/>
<circle cx="316.6" cy="168.2" r="2.15"/>
<circle cx="315.6" cy="158.0" r="2.15"/>
<circle cx="317.6" cy="160.5" r="2.15"/>
<circle cx="314.6" cy="161.6" r="2.15"/>
<circle cx="316.5" cy="159.1" r="2.15"/>
<circle cx="311.1" cy="159.8" r="2.15"/>
<circle cx="310.0" cy="168.7" r="2.15"/>
<circle cx="314.7" cy="160.9" r="2.15"/>
<circle cx="312.7" cy="170.2" r="2.15"/>
<circle cx="313.9" cy="159.6" r="2.15"/>
<circle cx="317.2" cy="165.5" r="2.15"/>
<circle cx="319.2" cy="157.8" r="2.15"/>
<circle cx="313.6" cy="167.8" r="2.15"/>
<circle cx="317.6" cy="169.2" r="2.15"/>
<circle cx="309.1" cy="160.5" r="2.15"/>
<circle cx="310.5" cy="159.0" r="2.15"/>
<circle cx="326.2" cy="164.5" r="2.15"/>
<circle cx="325.4" cy="161.6" r="2.15"/>
<circle cx="324.2" cy="162.6" r="2.15"/>
<circle cx="313.1" cy="167.2" r="2.15"/>
<circle cx="325.7" cy="157.8" r="2.15"/>
<circle cx="319.3" cy="165.0" r="2.15"/>
<circle cx="312.3" cy="161.5" r="2.15"/>
<circle cx="310.9" cy="159.2" r="2.15"/>
<circle cx="313.0" cy="164.7" r="2.15"/>
<circle cx="320.3" cy="159.2" r="2.15"/>
<circle cx="308.6" cy="160.9" r="2.15"/>
<circle cx="320.8" cy="158.9" r="2.15"/>
<circle cx="314.1" cy="159.2" r="2.15"/>
<circle cx="322.9" cy="164.0" r="2.15"/>
<circle cx="309.5" cy="157.8" r="2.15"/>
<circle cx="315.6" cy="164.1" r="2.15"/>
<circle cx="320.0" cy="157.6" r="2.15"/>
<circle cx="311.3" cy="166.1" r="2.15"/>
<circle cx="315.8" cy="160.3" r="2.15"/>
<circle cx="314.0" cy="169.7" r="2.15"/>
</g>
<line x1="297.90" y1="177.07" x2="333.80" y2="159.78" stroke="#c22c4c" stroke-width="0.75"/>
</g>
<text x="302.55" y="152.20" font-size="6.4" textLength="26.6" lengthAdjust="spacingAndGlyphs" fill="#1a1a1a" style="stroke:#1a1a1a;stroke-width:0.08px"><tspan font-style="italic">r</tspan> = 0.62**</text>
<g clip-path="url(#c32)" fill="none" stroke-width="0.65">
<g stroke="#284690" stroke-width="0.75">
<circle cx="353.1" cy="169.7" r="2.15"/>
<circle cx="347.5" cy="175.4" r="2.15"/>
<circle cx="342.2" cy="170.6" r="2.15"/>
<circle cx="347.6" cy="171.0" r="2.15"/>
<circle cx="339.1" cy="170.0" r="2.15"/>
<circle cx="341.4" cy="175.5" r="2.15"/>
<circle cx="350.7" cy="175.2" r="2.15"/>
<circle cx="341.5" cy="174.4" r="2.15"/>
<circle cx="340.5" cy="172.5" r="2.15"/>
<circle cx="349.9" cy="171.3" r="2.15"/>
<circle cx="354.2" cy="172.7" r="2.15"/>
<circle cx="348.9" cy="175.1" r="2.15"/>
<circle cx="340.3" cy="175.9" r="2.15"/>
<circle cx="349.8" cy="171.5" r="2.15"/>
<circle cx="352.8" cy="170.6" r="2.15"/>
<circle cx="356.3" cy="172.9" r="2.15"/>
<circle cx="344.9" cy="174.2" r="2.15"/>
<circle cx="346.4" cy="169.9" r="2.15"/>
<circle cx="351.8" cy="169.0" r="2.15"/>
<circle cx="353.2" cy="170.5" r="2.15"/>
<circle cx="350.0" cy="175.8" r="2.15"/>
<circle cx="349.0" cy="173.5" r="2.15"/>
</g>
<g stroke="#64ae40">
<circle cx="355.2" cy="159.3" r="2.15"/>
<circle cx="354.9" cy="160.0" r="2.15"/>
<circle cx="352.2" cy="167.4" r="2.15"/>
<circle cx="355.2" cy="159.5" r="2.15"/>
<circle cx="350.9" cy="162.1" r="2.15"/>
<circle cx="353.0" cy="161.9" r="2.15"/>
<circle cx="350.2" cy="160.3" r="2.15"/>
<circle cx="354.5" cy="168.0" r="2.15"/>
<circle cx="349.6" cy="164.0" r="2.15"/>
<circle cx="354.7" cy="157.8" r="2.15"/>
<circle cx="355.3" cy="158.8" r="2.15"/>
<circle cx="353.6" cy="163.9" r="2.15"/>
<circle cx="353.8" cy="161.0" r="2.15"/>
<circle cx="352.3" cy="164.3" r="2.15"/>
<circle cx="352.4" cy="165.2" r="2.15"/>
<circle cx="352.5" cy="162.6" r="2.15"/>
<circle cx="349.6" cy="164.7" r="2.15"/>
<circle cx="355.1" cy="160.1" r="2.15"/>
<circle cx="358.4" cy="166.6" r="2.15"/>
<circle cx="354.8" cy="159.5" r="2.15"/>
<circle cx="354.9" cy="158.6" r="2.15"/>
<circle cx="350.9" cy="162.5" r="2.15"/>
<circle cx="350.4" cy="162.6" r="2.15"/>
<circle cx="355.4" cy="157.8" r="2.15"/>
<circle cx="356.9" cy="158.3" r="2.15"/>
<circle cx="358.0" cy="166.6" r="2.15"/>
<circle cx="355.4" cy="158.0" r="2.15"/>
<circle cx="355.3" cy="161.8" r="2.15"/>
<circle cx="360.6" cy="159.0" r="2.15"/>
<circle cx="359.5" cy="169.2" r="2.15"/>
<circle cx="358.0" cy="167.0" r="2.15"/>
<circle cx="351.6" cy="169.0" r="2.15"/>
<circle cx="355.2" cy="168.7" r="2.15"/>
<circle cx="360.2" cy="159.3" r="2.15"/>
<circle cx="358.7" cy="168.4" r="2.15"/>
<circle cx="350.1" cy="161.5" r="2.15"/>
<circle cx="358.3" cy="159.2" r="2.15"/>
<circle cx="359.9" cy="160.6" r="2.15"/>
</g>
<line x1="333.80" y1="178.27" x2="369.70" y2="160.99" stroke="#c22c4c" stroke-width="0.75"/>
</g>
<text x="338.45" y="152.20" font-size="6.4" textLength="26.6" lengthAdjust="spacingAndGlyphs" fill="#1a1a1a" style="stroke:#1a1a1a;stroke-width:0.08px"><tspan font-style="italic">r</tspan> = 0.63**</text>
<g clip-path="url(#c33)" fill="none" stroke-width="0.65">
<g stroke="#284690" stroke-width="0.75">
<circle cx="385.4" cy="173.6" r="2.15"/>
<circle cx="385.5" cy="168.6" r="2.15"/>
<circle cx="384.0" cy="170.1" r="2.15"/>
<circle cx="386.3" cy="170.8" r="2.15"/>
<circle cx="381.1" cy="171.9" r="2.15"/>
<circle cx="388.0" cy="168.2" r="2.15"/>
<circle cx="387.2" cy="166.5" r="2.15"/>
<circle cx="381.1" cy="168.4" r="2.15"/>
<circle cx="385.8" cy="174.5" r="2.15"/>
<circle cx="385.9" cy="169.2" r="2.15"/>
<circle cx="387.2" cy="169.2" r="2.15"/>
<circle cx="380.9" cy="174.2" r="2.15"/>
<circle cx="384.7" cy="172.3" r="2.15"/>
<circle cx="385.1" cy="174.8" r="2.15"/>
<circle cx="383.2" cy="173.6" r="2.15"/>
<circle cx="385.4" cy="173.7" r="2.15"/>
<circle cx="382.8" cy="172.6" r="2.15"/>
<circle cx="384.1" cy="169.0" r="2.15"/>
<circle cx="380.6" cy="171.7" r="2.15"/>
<circle cx="379.3" cy="174.2" r="2.15"/>
<circle cx="380.0" cy="166.6" r="2.15"/>
<circle cx="379.6" cy="174.3" r="2.15"/>
</g>
<g stroke="#64ae40">
<circle cx="386.3" cy="157.8" r="2.15"/>
<circle cx="383.7" cy="159.4" r="2.15"/>
<circle cx="389.1" cy="162.6" r="2.15"/>
<circle cx="388.1" cy="167.8" r="2.15"/>
<circle cx="384.6" cy="160.3" r="2.15"/>
<circle cx="389.4" cy="158.0" r="2.15"/>
<circle cx="383.4" cy="161.7" r="2.15"/>
<circle cx="384.3" cy="161.8" r="2.15"/>
<circle cx="385.4" cy="164.3" r="2.15"/>
<circle cx="388.8" cy="160.0" r="2.15"/>
<circle cx="389.2" cy="163.1" r="2.15"/>
<circle cx="384.6" cy="168.2" r="2.15"/>
<circle cx="385.6" cy="159.4" r="2.15"/>
<circle cx="384.2" cy="164.9" r="2.15"/>
<circle cx="391.5" cy="166.5" r="2.15"/>
<circle cx="387.1" cy="160.7" r="2.15"/>
<circle cx="383.5" cy="165.0" r="2.15"/>
<circle cx="392.1" cy="161.7" r="2.15"/>
<circle cx="393.4" cy="162.7" r="2.15"/>
<circle cx="397.9" cy="166.0" r="2.15"/>
<circle cx="387.2" cy="167.9" r="2.15"/>
<circle cx="384.0" cy="163.7" r="2.15"/>
<circle cx="389.6" cy="160.4" r="2.15"/>
<circle cx="384.3" cy="166.5" r="2.15"/>
<circle cx="383.5" cy="163.9" r="2.15"/>
<circle cx="397.9" cy="159.3" r="2.15"/>
<circle cx="386.4" cy="164.6" r="2.15"/>
<circle cx="391.2" cy="164.9" r="2.15"/>
<circle cx="396.0" cy="159.7" r="2.15"/>
<circle cx="388.1" cy="161.1" r="2.15"/>
<circle cx="384.1" cy="167.7" r="2.15"/>
<circle cx="395.5" cy="165.8" r="2.15"/>
<circle cx="383.4" cy="167.2" r="2.15"/>
<circle cx="394.9" cy="163.0" r="2.15"/>
<circle cx="394.8" cy="162.8" r="2.15"/>
<circle cx="386.9" cy="158.9" r="2.15"/>
<circle cx="387.0" cy="158.2" r="2.15"/>
<circle cx="388.6" cy="166.1" r="2.15"/>
</g>
<line x1="369.70" y1="177.07" x2="405.60" y2="159.78" stroke="#c22c4c" stroke-width="0.75"/>
</g>
<text x="374.35" y="152.20" font-size="6.4" textLength="26.6" lengthAdjust="spacingAndGlyphs" fill="#1a1a1a" style="stroke:#1a1a1a;stroke-width:0.08px"><tspan font-style="italic">r</tspan> = 0.54**</text>
<g clip-path="url(#c40)" fill="none" stroke-width="0.65">
<g stroke="#284690" stroke-width="0.75">
<circle cx="273.6" cy="210.0" r="2.15"/>
<circle cx="269.2" cy="212.5" r="2.15"/>
<circle cx="269.0" cy="215.1" r="2.15"/>
<circle cx="273.6" cy="215.1" r="2.15"/>
<circle cx="273.1" cy="207.5" r="2.15"/>
<circle cx="271.4" cy="208.2" r="2.15"/>
<circle cx="275.0" cy="202.8" r="2.15"/>
<circle cx="275.0" cy="201.7" r="2.15"/>
<circle cx="269.9" cy="205.9" r="2.15"/>
<circle cx="275.1" cy="210.1" r="2.15"/>
<circle cx="271.2" cy="216.8" r="2.15"/>
<circle cx="270.1" cy="209.4" r="2.15"/>
<circle cx="272.3" cy="214.5" r="2.15"/>
<circle cx="274.0" cy="212.6" r="2.15"/>
<circle cx="271.0" cy="207.0" r="2.15"/>
<circle cx="269.5" cy="216.1" r="2.15"/>
<circle cx="273.3" cy="214.3" r="2.15"/>
<circle cx="269.6" cy="209.0" r="2.15"/>
<circle cx="274.2" cy="211.4" r="2.15"/>
<circle cx="269.3" cy="209.4" r="2.15"/>
<circle cx="275.0" cy="205.4" r="2.15"/>
<circle cx="269.8" cy="206.6" r="2.15"/>
</g>
<g stroke="#64ae40">
<circle cx="272.9" cy="197.8" r="2.15"/>
<circle cx="271.1" cy="196.8" r="2.15"/>
<circle cx="274.8" cy="202.9" r="2.15"/>
<circle cx="274.8" cy="203.9" r="2.15"/>
<circle cx="271.3" cy="202.4" r="2.15"/>
<circle cx="273.0" cy="204.8" r="2.15"/>
<circle cx="275.5" cy="205.5" r="2.15"/>
<circle cx="271.3" cy="205.3" r="2.15"/>
<circle cx="276.1" cy="206.1" r="2.15"/>
<circle cx="271.5" cy="198.5" r="2.15"/>
<circle cx="271.6" cy="196.7" r="2.15"/>
<circle cx="275.7" cy="204.7" r="2.15"/>
<circle cx="274.5" cy="204.8" r="2.15"/>
<circle cx="274.5" cy="199.3" r="2.15"/>
<circle cx="271.5" cy="197.4" r="2.15"/>
<circle cx="275.2" cy="198.5" r="2.15"/>
<circle cx="272.7" cy="200.7" r="2.15"/>
<circle cx="271.1" cy="199.0" r="2.15"/>
<circle cx="272.5" cy="203.7" r="2.15"/>
<circle cx="273.0" cy="199.7" r="2.15"/>
<circle cx="285.1" cy="201.5" r="2.15"/>
<circle cx="283.5" cy="202.7" r="2.15"/>
<circle cx="271.4" cy="200.6" r="2.15"/>
<circle cx="277.4" cy="204.3" r="2.15"/>
<circle cx="276.0" cy="203.6" r="2.15"/>
<circle cx="278.9" cy="198.6" r="2.15"/>
<circle cx="283.6" cy="197.3" r="2.15"/>
<circle cx="283.0" cy="198.1" r="2.15"/>
<circle cx="271.0" cy="198.4" r="2.15"/>
<circle cx="282.2" cy="206.4" r="2.15"/>
<circle cx="271.0" cy="201.4" r="2.15"/>
<circle cx="278.2" cy="204.6" r="2.15"/>
<circle cx="273.7" cy="201.4" r="2.15"/>
<circle cx="276.1" cy="204.9" r="2.15"/>
<circle cx="274.8" cy="206.1" r="2.15"/>
<circle cx="275.1" cy="198.6" r="2.15"/>
</g>
<line x1="262.00" y1="211.41" x2="297.90" y2="197.25" stroke="#c22c4c" stroke-width="0.75"/>
</g>
<text x="266.65" y="192.00" font-size="6.4" textLength="26.6" lengthAdjust="spacingAndGlyphs" fill="#1a1a1a" style="stroke:#1a1a1a;stroke-width:0.08px"><tspan font-style="italic">r</tspan> = 0.30**</text>
<g clip-path="url(#c41)" fill="none" stroke-width="0.65">
<g stroke="#284690" stroke-width="0.75">
<circle cx="303.8" cy="211.2" r="2.15"/>
<circle cx="308.2" cy="213.4" r="2.15"/>
<circle cx="307.9" cy="212.2" r="2.15"/>
<circle cx="311.0" cy="210.4" r="2.15"/>
<circle cx="306.9" cy="216.9" r="2.15"/>
<circle cx="304.9" cy="212.9" r="2.15"/>
<circle cx="306.7" cy="214.1" r="2.15"/>
<circle cx="304.0" cy="217.5" r="2.15"/>
<circle cx="306.3" cy="203.2" r="2.15"/>
<circle cx="305.5" cy="208.5" r="2.15"/>
<circle cx="303.0" cy="208.8" r="2.15"/>
<circle cx="307.0" cy="213.1" r="2.15"/>
<circle cx="306.3" cy="206.4" r="2.15"/>
<circle cx="305.0" cy="213.8" r="2.15"/>
<circle cx="312.1" cy="210.5" r="2.15"/>
<circle cx="305.0" cy="214.7" r="2.15"/>
<circle cx="306.7" cy="205.6" r="2.15"/>
<circle cx="304.1" cy="214.3" r="2.15"/>
<circle cx="310.8" cy="212.1" r="2.15"/>
<circle cx="307.4" cy="211.0" r="2.15"/>
<circle cx="305.1" cy="217.2" r="2.15"/>
<circle cx="306.3" cy="212.2" r="2.15"/>
</g>
<g stroke="#64ae40">
<circle cx="316.1" cy="207.6" r="2.15"/>
<circle cx="310.0" cy="198.4" r="2.15"/>
<circle cx="311.1" cy="200.7" r="2.15"/>
<circle cx="314.1" cy="198.5" r="2.15"/>
<circle cx="312.0" cy="198.9" r="2.15"/>
<circle cx="319.1" cy="206.0" r="2.15"/>
<circle cx="309.5" cy="209.1" r="2.15"/>
<circle cx="309.5" cy="201.5" r="2.15"/>
<circle cx="319.2" cy="206.9" r="2.15"/>
<circle cx="316.4" cy="202.1" r="2.15"/>
<circle cx="310.5" cy="204.8" r="2.15"/>
<circle cx="309.5" cy="199.1" r="2.15"/>
<circle cx="312.6" cy="196.8" r="2.15"/>
<circle cx="312.7" cy="206.9" r="2.15"/>
<circle cx="316.0" cy="203.0" r="2.15"/>
<circle cx="315.3" cy="202.5" r="2.15"/>
<circle cx="310.9" cy="204.4" r="2.15"/>
<circle cx="315.8" cy="206.2" r="2.15"/>
<circle cx="325.0" cy="202.1" r="2.15"/>
<circle cx="318.9" cy="206.3" r="2.15"/>
<circle cx="316.1" cy="199.4" r="2.15"/>
<circle cx="321.6" cy="208.1" r="2.15"/>
<circle cx="322.5" cy="205.7" r="2.15"/>
<circle cx="323.9" cy="205.4" r="2.15"/>
<circle cx="320.1" cy="202.4" r="2.15"/>
<circle cx="314.1" cy="204.7" r="2.15"/>
<circle cx="310.1" cy="201.9" r="2.15"/>
<circle cx="322.7" cy="205.8" r="2.15"/>
<circle cx="319.9" cy="199.7" r="2.15"/>
<circle cx="316.1" cy="202.4" r="2.15"/>
<circle cx="319.7" cy="201.8" r="2.15"/>
<circle cx="320.7" cy="208.7" r="2.15"/>
<circle cx="311.7" cy="205.1" r="2.15"/>
<circle cx="322.6" cy="201.5" r="2.15"/>
<circle cx="317.3" cy="209.3" r="2.15"/>
<circle cx="309.0" cy="203.6" r="2.15"/>
<circle cx="311.3" cy="206.7" r="2.15"/>
<circle cx="325.6" cy="203.3" r="2.15"/>
</g>
<line x1="297.90" y1="215.86" x2="333.80" y2="195.23" stroke="#c22c4c" stroke-width="0.75"/>
</g>
<text x="302.55" y="192.00" font-size="6.4" textLength="26.6" lengthAdjust="spacingAndGlyphs" fill="#1a1a1a" style="stroke:#1a1a1a;stroke-width:0.08px"><tspan font-style="italic">r</tspan> = 0.55**</text>
<g clip-path="url(#c42)" fill="none" stroke-width="0.65">
<g stroke="#284690" stroke-width="0.75">
<circle cx="349.1" cy="215.3" r="2.15"/>
<circle cx="345.4" cy="208.8" r="2.15"/>
<circle cx="352.9" cy="203.5" r="2.15"/>
<circle cx="348.8" cy="212.1" r="2.15"/>
<circle cx="340.9" cy="211.7" r="2.15"/>
<circle cx="349.4" cy="216.7" r="2.15"/>
<circle cx="344.8" cy="217.5" r="2.15"/>
<circle cx="347.1" cy="209.8" r="2.15"/>
<circle cx="352.1" cy="202.9" r="2.15"/>
<circle cx="349.8" cy="212.0" r="2.15"/>
<circle cx="344.9" cy="215.6" r="2.15"/>
<circle cx="345.3" cy="209.7" r="2.15"/>
<circle cx="347.3" cy="214.2" r="2.15"/>
<circle cx="343.3" cy="209.1" r="2.15"/>
<circle cx="346.0" cy="210.9" r="2.15"/>
<circle cx="351.2" cy="206.9" r="2.15"/>
<circle cx="351.2" cy="208.6" r="2.15"/>
<circle cx="347.0" cy="206.5" r="2.15"/>
<circle cx="347.1" cy="217.4" r="2.15"/>
<circle cx="349.0" cy="214.5" r="2.15"/>
<circle cx="344.8" cy="207.2" r="2.15"/>
<circle cx="344.4" cy="211.4" r="2.15"/>
</g>
<g stroke="#64ae40">
<circle cx="355.7" cy="204.8" r="2.15"/>
<circle cx="352.5" cy="199.4" r="2.15"/>
<circle cx="353.3" cy="197.6" r="2.15"/>
<circle cx="355.8" cy="200.0" r="2.15"/>
<circle cx="356.0" cy="199.1" r="2.15"/>
<circle cx="351.7" cy="199.0" r="2.15"/>
<circle cx="352.2" cy="198.3" r="2.15"/>
<circle cx="348.4" cy="203.8" r="2.15"/>
<circle cx="350.9" cy="198.9" r="2.15"/>
<circle cx="351.0" cy="201.3" r="2.15"/>
<circle cx="352.2" cy="202.9" r="2.15"/>
<circle cx="354.2" cy="200.1" r="2.15"/>
<circle cx="356.7" cy="205.2" r="2.15"/>
<circle cx="348.9" cy="204.9" r="2.15"/>
<circle cx="356.4" cy="204.4" r="2.15"/>
<circle cx="349.6" cy="204.9" r="2.15"/>
<circle cx="357.8" cy="196.5" r="2.15"/>
<circle cx="348.5" cy="206.2" r="2.15"/>
<circle cx="358.1" cy="198.9" r="2.15"/>
<circle cx="349.9" cy="197.8" r="2.15"/>
<circle cx="351.8" cy="204.3" r="2.15"/>
<circle cx="353.5" cy="197.9" r="2.15"/>
<circle cx="361.8" cy="204.5" r="2.15"/>
<circle cx="350.9" cy="205.5" r="2.15"/>
<circle cx="357.4" cy="204.4" r="2.15"/>
<circle cx="358.3" cy="205.6" r="2.15"/>
<circle cx="360.1" cy="205.0" r="2.15"/>
<circle cx="351.3" cy="203.5" r="2.15"/>
<circle cx="356.3" cy="204.0" r="2.15"/>
<circle cx="354.9" cy="205.4" r="2.15"/>
<circle cx="356.6" cy="199.1" r="2.15"/>
<circle cx="351.8" cy="197.8" r="2.15"/>
<circle cx="355.7" cy="197.0" r="2.15"/>
<circle cx="355.3" cy="197.8" r="2.15"/>
<circle cx="355.7" cy="201.5" r="2.15"/>
<circle cx="356.4" cy="205.2" r="2.15"/>
<circle cx="348.4" cy="205.0" r="2.15"/>
<circle cx="355.3" cy="202.1" r="2.15"/>
</g>
<line x1="333.80" y1="215.86" x2="369.70" y2="199.28" stroke="#c22c4c" stroke-width="0.75"/>
</g>
<text x="338.45" y="192.00" font-size="6.4" textLength="26.6" lengthAdjust="spacingAndGlyphs" fill="#1a1a1a" style="stroke:#1a1a1a;stroke-width:0.08px"><tspan font-style="italic">r</tspan> = 0.45**</text>
<g clip-path="url(#c43)" fill="none" stroke-width="0.65">
<g stroke="#284690" stroke-width="0.75">
<circle cx="384.1" cy="216.3" r="2.15"/>
<circle cx="384.3" cy="203.4" r="2.15"/>
<circle cx="383.4" cy="213.8" r="2.15"/>
<circle cx="381.9" cy="217.5" r="2.15"/>
<circle cx="380.1" cy="218.1" r="2.15"/>
<circle cx="384.2" cy="202.2" r="2.15"/>
<circle cx="378.0" cy="212.9" r="2.15"/>
<circle cx="385.0" cy="203.4" r="2.15"/>
<circle cx="380.6" cy="214.2" r="2.15"/>
<circle cx="379.3" cy="216.3" r="2.15"/>
<circle cx="382.1" cy="203.0" r="2.15"/>
<circle cx="381.1" cy="211.6" r="2.15"/>
<circle cx="381.7" cy="213.3" r="2.15"/>
<circle cx="379.1" cy="215.3" r="2.15"/>
<circle cx="381.0" cy="212.8" r="2.15"/>
<circle cx="383.4" cy="209.0" r="2.15"/>
<circle cx="381.2" cy="215.1" r="2.15"/>
<circle cx="386.2" cy="215.1" r="2.15"/>
<circle cx="382.8" cy="206.9" r="2.15"/>
<circle cx="378.4" cy="218.2" r="2.15"/>
<circle cx="384.0" cy="215.8" r="2.15"/>
<circle cx="380.8" cy="212.1" r="2.15"/>
</g>
<g stroke="#64ae40">
<circle cx="389.5" cy="206.1" r="2.15"/>
<circle cx="383.9" cy="205.4" r="2.15"/>
<circle cx="391.8" cy="203.3" r="2.15"/>
<circle cx="384.0" cy="200.4" r="2.15"/>
<circle cx="383.6" cy="199.1" r="2.15"/>
<circle cx="392.2" cy="204.0" r="2.15"/>
<circle cx="389.7" cy="206.2" r="2.15"/>
<circle cx="392.1" cy="204.1" r="2.15"/>
<circle cx="389.3" cy="204.2" r="2.15"/>
<circle cx="390.1" cy="203.9" r="2.15"/>
<circle cx="389.9" cy="199.4" r="2.15"/>
<circle cx="389.8" cy="202.3" r="2.15"/>
<circle cx="390.7" cy="198.0" r="2.15"/>
<circle cx="385.2" cy="197.3" r="2.15"/>
<circle cx="390.8" cy="207.6" r="2.15"/>
<circle cx="389.7" cy="201.2" r="2.15"/>
<circle cx="396.4" cy="206.1" r="2.15"/>
<circle cx="392.3" cy="199.9" r="2.15"/>
<circle cx="388.3" cy="201.8" r="2.15"/>
<circle cx="388.5" cy="201.9" r="2.15"/>
<circle cx="393.6" cy="207.9" r="2.15"/>
<circle cx="384.4" cy="203.5" r="2.15"/>
<circle cx="384.2" cy="198.3" r="2.15"/>
<circle cx="396.2" cy="203.6" r="2.15"/>
<circle cx="397.9" cy="202.1" r="2.15"/>
<circle cx="383.8" cy="201.4" r="2.15"/>
<circle cx="392.8" cy="207.9" r="2.15"/>
<circle cx="398.9" cy="202.5" r="2.15"/>
<circle cx="390.0" cy="198.1" r="2.15"/>
<circle cx="393.6" cy="199.4" r="2.15"/>
<circle cx="385.9" cy="197.0" r="2.15"/>
<circle cx="383.6" cy="204.9" r="2.15"/>
<circle cx="385.4" cy="208.3" r="2.15"/>
<circle cx="384.9" cy="207.1" r="2.15"/>
<circle cx="385.6" cy="197.1" r="2.15"/>
<circle cx="394.8" cy="199.7" r="2.15"/>
<circle cx="395.0" cy="199.1" r="2.15"/>
<circle cx="384.3" cy="206.0" r="2.15"/>
</g>
<line x1="369.70" y1="217.88" x2="405.60" y2="195.23" stroke="#c22c4c" stroke-width="0.75"/>
</g>
<text x="374.35" y="192.00" font-size="6.4" textLength="26.6" lengthAdjust="spacingAndGlyphs" fill="#1a1a1a" style="stroke:#1a1a1a;stroke-width:0.08px"><tspan font-style="italic">r</tspan> = 0.52**</text>
<g clip-path="url(#c44)" fill="none" stroke-width="0.65">
<g stroke="#284690" stroke-width="0.75">
<circle cx="418.7" cy="209.4" r="2.15"/>
<circle cx="416.5" cy="205.7" r="2.15"/>
<circle cx="418.0" cy="208.4" r="2.15"/>
<circle cx="419.3" cy="214.1" r="2.15"/>
<circle cx="418.3" cy="217.3" r="2.15"/>
<circle cx="414.2" cy="202.0" r="2.15"/>
<circle cx="413.8" cy="204.4" r="2.15"/>
<circle cx="413.0" cy="202.2" r="2.15"/>
<circle cx="416.4" cy="215.8" r="2.15"/>
<circle cx="415.7" cy="217.1" r="2.15"/>
<circle cx="419.0" cy="202.4" r="2.15"/>
<circle cx="416.7" cy="207.9" r="2.15"/>
<circle cx="413.2" cy="217.3" r="2.15"/>
<circle cx="414.2" cy="210.7" r="2.15"/>
<circle cx="417.0" cy="217.2" r="2.15"/>
<circle cx="417.2" cy="207.9" r="2.15"/>
<circle cx="415.6" cy="204.0" r="2.15"/>
<circle cx="419.4" cy="217.8" r="2.15"/>
<circle cx="414.0" cy="202.0" r="2.15"/>
<circle cx="414.2" cy="207.2" r="2.15"/>
<circle cx="418.9" cy="216.4" r="2.15"/>
<circle cx="418.5" cy="202.1" r="2.15"/>
</g>
<g stroke="#64ae40">
<circle cx="425.2" cy="206.7" r="2.15"/>
<circle cx="422.1" cy="200.5" r="2.15"/>
<circle cx="420.8" cy="207.3" r="2.15"/>
<circle cx="420.4" cy="204.9" r="2.15"/>
<circle cx="422.2" cy="207.4" r="2.15"/>
<circle cx="423.8" cy="200.2" r="2.15"/>
<circle cx="417.4" cy="200.0" r="2.15"/>
<circle cx="420.7" cy="203.8" r="2.15"/>
<circle cx="423.9" cy="207.3" r="2.15"/>
<circle cx="417.7" cy="206.7" r="2.15"/>
<circle cx="423.8" cy="207.1" r="2.15"/>
<circle cx="421.9" cy="200.1" r="2.15"/>
<circle cx="424.1" cy="206.4" r="2.15"/>
<circle cx="422.8" cy="207.6" r="2.15"/>
<circle cx="420.1" cy="197.9" r="2.15"/>
<circle cx="421.8" cy="206.3" r="2.15"/>
<circle cx="420.0" cy="205.7" r="2.15"/>
<circle cx="429.7" cy="199.6" r="2.15"/>
<circle cx="425.4" cy="204.8" r="2.15"/>
<circle cx="423.5" cy="199.3" r="2.15"/>
<circle cx="420.7" cy="205.7" r="2.15"/>
<circle cx="427.9" cy="202.3" r="2.15"/>
<circle cx="418.5" cy="206.4" r="2.15"/>
<circle cx="427.6" cy="199.6" r="2.15"/>
<circle cx="425.1" cy="207.4" r="2.15"/>
<circle cx="429.1" cy="203.0" r="2.15"/>
<circle cx="423.7" cy="203.8" r="2.15"/>
<circle cx="419.9" cy="199.1" r="2.15"/>
<circle cx="419.8" cy="205.1" r="2.15"/>
<circle cx="422.2" cy="203.5" r="2.15"/>
<circle cx="422.7" cy="203.0" r="2.15"/>
<circle cx="419.3" cy="197.4" r="2.15"/>
<circle cx="430.6" cy="201.3" r="2.15"/>
<circle cx="418.8" cy="204.3" r="2.15"/>
<circle cx="427.8" cy="198.7" r="2.15"/>
<circle cx="425.3" cy="200.9" r="2.15"/>
<circle cx="424.3" cy="197.1" r="2.15"/>
<circle cx="417.8" cy="208.5" r="2.15"/>
</g>
<line x1="405.60" y1="217.07" x2="441.50" y2="191.59" stroke="#c22c4c" stroke-width="0.75"/>
</g>
<text x="410.25" y="192.00" font-size="6.4" textLength="26.6" lengthAdjust="spacingAndGlyphs" fill="#1a1a1a" style="stroke:#1a1a1a;stroke-width:0.08px"><tspan font-style="italic">r</tspan> = 0.56**</text>
<g clip-path="url(#c50)" fill="none" stroke-width="0.65">
<g stroke="#284690" stroke-width="0.75">
<circle cx="269.3" cy="247.4" r="2.15"/>
<circle cx="277.0" cy="245.0" r="2.15"/>
<circle cx="275.4" cy="247.4" r="2.15"/>
<circle cx="277.8" cy="244.6" r="2.15"/>
<circle cx="276.2" cy="247.9" r="2.15"/>
<circle cx="269.7" cy="244.5" r="2.15"/>
<circle cx="276.4" cy="249.8" r="2.15"/>
<circle cx="270.2" cy="248.8" r="2.15"/>
<circle cx="277.2" cy="246.7" r="2.15"/>
<circle cx="273.9" cy="245.8" r="2.15"/>
<circle cx="270.1" cy="252.2" r="2.15"/>
<circle cx="275.3" cy="246.4" r="2.15"/>
<circle cx="269.1" cy="245.3" r="2.15"/>
<circle cx="274.3" cy="249.5" r="2.15"/>
<circle cx="271.0" cy="246.5" r="2.15"/>
<circle cx="274.3" cy="251.6" r="2.15"/>
<circle cx="276.2" cy="250.3" r="2.15"/>
<circle cx="270.3" cy="245.1" r="2.15"/>
<circle cx="275.5" cy="248.6" r="2.15"/>
<circle cx="275.4" cy="245.0" r="2.15"/>
<circle cx="276.2" cy="247.8" r="2.15"/>
<circle cx="276.5" cy="253.2" r="2.15"/>
</g>
<g stroke="#64ae40">
<circle cx="275.6" cy="243.7" r="2.15"/>
<circle cx="274.8" cy="246.5" r="2.15"/>
<circle cx="271.3" cy="237.8" r="2.15"/>
<circle cx="275.5" cy="246.0" r="2.15"/>
<circle cx="275.0" cy="239.4" r="2.15"/>
<circle cx="274.5" cy="244.2" r="2.15"/>
<circle cx="271.6" cy="239.7" r="2.15"/>
<circle cx="272.5" cy="237.6" r="2.15"/>
<circle cx="273.8" cy="238.1" r="2.15"/>
<circle cx="272.4" cy="237.8" r="2.15"/>
<circle cx="275.0" cy="236.5" r="2.15"/>
<circle cx="275.2" cy="238.4" r="2.15"/>
<circle cx="271.2" cy="245.9" r="2.15"/>
<circle cx="272.3" cy="246.0" r="2.15"/>
<circle cx="276.1" cy="245.5" r="2.15"/>
<circle cx="271.8" cy="241.0" r="2.15"/>
<circle cx="271.5" cy="245.9" r="2.15"/>
<circle cx="276.0" cy="242.8" r="2.15"/>
<circle cx="273.6" cy="239.8" r="2.15"/>
<circle cx="275.9" cy="241.3" r="2.15"/>
<circle cx="280.8" cy="237.8" r="2.15"/>
<circle cx="274.4" cy="236.9" r="2.15"/>
<circle cx="282.2" cy="242.0" r="2.15"/>
<circle cx="273.2" cy="245.3" r="2.15"/>
<circle cx="275.1" cy="240.6" r="2.15"/>
<circle cx="273.4" cy="239.1" r="2.15"/>
<circle cx="284.1" cy="239.8" r="2.15"/>
<circle cx="273.6" cy="241.4" r="2.15"/>
<circle cx="275.9" cy="245.7" r="2.15"/>
<circle cx="272.7" cy="246.4" r="2.15"/>
<circle cx="271.8" cy="245.6" r="2.15"/>
<circle cx="281.4" cy="238.5" r="2.15"/>
<circle cx="278.4" cy="239.3" r="2.15"/>
<circle cx="275.0" cy="238.4" r="2.15"/>
<circle cx="276.7" cy="246.6" r="2.15"/>
<circle cx="286.6" cy="245.9" r="2.15"/>
</g>
<line x1="262.00" y1="249.37" x2="297.90" y2="235.25" stroke="#c22c4c" stroke-width="0.75"/>
</g>
<text x="266.65" y="231.20" font-size="6.4" textLength="26.6" lengthAdjust="spacingAndGlyphs" fill="#1a1a1a" style="stroke:#1a1a1a;stroke-width:0.08px"><tspan font-style="italic">r</tspan> = 0.38**</text>
<g clip-path="url(#c51)" fill="none" stroke-width="0.65">
<g stroke="#284690" stroke-width="0.75">
<circle cx="307.1" cy="253.3" r="2.15"/>
<circle cx="310.7" cy="252.8" r="2.15"/>
<circle cx="310.8" cy="252.2" r="2.15"/>
<circle cx="303.4" cy="249.6" r="2.15"/>
<circle cx="312.2" cy="252.9" r="2.15"/>
<circle cx="305.3" cy="248.9" r="2.15"/>
<circle cx="309.1" cy="248.4" r="2.15"/>
<circle cx="308.1" cy="246.1" r="2.15"/>
<circle cx="307.1" cy="249.5" r="2.15"/>
<circle cx="303.1" cy="246.7" r="2.15"/>
<circle cx="312.4" cy="251.7" r="2.15"/>
<circle cx="312.0" cy="250.6" r="2.15"/>
<circle cx="310.8" cy="252.5" r="2.15"/>
<circle cx="311.5" cy="245.8" r="2.15"/>
<circle cx="309.1" cy="247.6" r="2.15"/>
<circle cx="309.5" cy="247.7" r="2.15"/>
<circle cx="308.2" cy="252.9" r="2.15"/>
<circle cx="308.9" cy="247.5" r="2.15"/>
<circle cx="307.9" cy="249.0" r="2.15"/>
<circle cx="312.2" cy="247.8" r="2.15"/>
<circle cx="305.8" cy="250.7" r="2.15"/>
<circle cx="304.0" cy="250.2" r="2.15"/>
</g>
<g stroke="#64ae40">
<circle cx="314.0" cy="236.5" r="2.15"/>
<circle cx="318.5" cy="241.3" r="2.15"/>
<circle cx="318.1" cy="239.1" r="2.15"/>
<circle cx="310.7" cy="244.9" r="2.15"/>
<circle cx="312.6" cy="238.0" r="2.15"/>
<circle cx="312.7" cy="242.5" r="2.15"/>
<circle cx="308.7" cy="241.7" r="2.15"/>
<circle cx="313.5" cy="241.7" r="2.15"/>
<circle cx="310.0" cy="243.7" r="2.15"/>
<circle cx="317.5" cy="245.3" r="2.15"/>
<circle cx="312.1" cy="243.7" r="2.15"/>
<circle cx="312.8" cy="244.1" r="2.15"/>
<circle cx="309.3" cy="245.3" r="2.15"/>
<circle cx="319.0" cy="241.4" r="2.15"/>
<circle cx="314.2" cy="241.8" r="2.15"/>
<circle cx="314.5" cy="236.6" r="2.15"/>
<circle cx="326.1" cy="238.7" r="2.15"/>
<circle cx="311.9" cy="237.4" r="2.15"/>
<circle cx="313.2" cy="244.8" r="2.15"/>
<circle cx="309.2" cy="237.3" r="2.15"/>
<circle cx="321.2" cy="238.4" r="2.15"/>
<circle cx="309.0" cy="242.5" r="2.15"/>
<circle cx="319.0" cy="241.7" r="2.15"/>
<circle cx="321.3" cy="237.4" r="2.15"/>
<circle cx="324.3" cy="243.7" r="2.15"/>
<circle cx="309.5" cy="237.6" r="2.15"/>
<circle cx="317.5" cy="241.5" r="2.15"/>
<circle cx="313.7" cy="237.6" r="2.15"/>
<circle cx="316.0" cy="237.8" r="2.15"/>
<circle cx="319.3" cy="245.2" r="2.15"/>
<circle cx="311.3" cy="242.3" r="2.15"/>
<circle cx="322.1" cy="238.0" r="2.15"/>
<circle cx="323.5" cy="246.0" r="2.15"/>
<circle cx="315.6" cy="240.7" r="2.15"/>
<circle cx="323.8" cy="241.8" r="2.15"/>
<circle cx="315.8" cy="246.0" r="2.15"/>
<circle cx="322.6" cy="239.8" r="2.15"/>
<circle cx="313.0" cy="239.8" r="2.15"/>
</g>
<line x1="297.90" y1="252.60" x2="333.80" y2="235.25" stroke="#c22c4c" stroke-width="0.75"/>
</g>
<text x="302.55" y="231.20" font-size="6.4" textLength="26.6" lengthAdjust="spacingAndGlyphs" fill="#1a1a1a" style="stroke:#1a1a1a;stroke-width:0.08px"><tspan font-style="italic">r</tspan> = 0.59**</text>
<g clip-path="url(#c52)" fill="none" stroke-width="0.65">
<g stroke="#284690" stroke-width="0.75">
<circle cx="348.5" cy="253.1" r="2.15"/>
<circle cx="346.2" cy="247.6" r="2.15"/>
<circle cx="344.2" cy="248.5" r="2.15"/>
<circle cx="347.7" cy="246.6" r="2.15"/>
<circle cx="343.4" cy="249.6" r="2.15"/>
<circle cx="343.3" cy="247.0" r="2.15"/>
<circle cx="348.6" cy="252.9" r="2.15"/>
<circle cx="344.8" cy="248.3" r="2.15"/>
<circle cx="340.7" cy="246.8" r="2.15"/>
<circle cx="340.2" cy="249.8" r="2.15"/>
<circle cx="345.9" cy="244.3" r="2.15"/>
<circle cx="350.3" cy="247.0" r="2.15"/>
<circle cx="349.3" cy="252.7" r="2.15"/>
<circle cx="350.8" cy="245.6" r="2.15"/>
<circle cx="343.9" cy="253.5" r="2.15"/>
<circle cx="338.5" cy="243.9" r="2.15"/>
<circle cx="345.7" cy="248.9" r="2.15"/>
<circle cx="350.3" cy="252.0" r="2.15"/>
<circle cx="345.4" cy="254.5" r="2.15"/>
<circle cx="345.1" cy="249.1" r="2.15"/>
<circle cx="347.3" cy="247.7" r="2.15"/>
<circle cx="343.0" cy="250.0" r="2.15"/>
</g>
<g stroke="#64ae40">
<circle cx="353.9" cy="241.1" r="2.15"/>
<circle cx="347.0" cy="240.6" r="2.15"/>
<circle cx="349.7" cy="236.9" r="2.15"/>
<circle cx="345.6" cy="236.7" r="2.15"/>
<circle cx="347.3" cy="239.9" r="2.15"/>
<circle cx="347.2" cy="238.0" r="2.15"/>
<circle cx="345.2" cy="241.5" r="2.15"/>
<circle cx="352.8" cy="242.2" r="2.15"/>
<circle cx="350.1" cy="242.7" r="2.15"/>
<circle cx="346.4" cy="243.3" r="2.15"/>
<circle cx="349.0" cy="241.5" r="2.15"/>
<circle cx="350.5" cy="240.6" r="2.15"/>
<circle cx="347.5" cy="238.0" r="2.15"/>
<circle cx="346.6" cy="241.1" r="2.15"/>
<circle cx="348.2" cy="241.9" r="2.15"/>
<circle cx="344.5" cy="239.3" r="2.15"/>
<circle cx="358.7" cy="238.0" r="2.15"/>
<circle cx="353.6" cy="240.9" r="2.15"/>
<circle cx="349.1" cy="246.5" r="2.15"/>
<circle cx="349.3" cy="244.1" r="2.15"/>
<circle cx="347.0" cy="236.0" r="2.15"/>
<circle cx="358.9" cy="240.3" r="2.15"/>
<circle cx="345.4" cy="239.7" r="2.15"/>
<circle cx="351.7" cy="243.6" r="2.15"/>
<circle cx="346.2" cy="237.8" r="2.15"/>
<circle cx="360.4" cy="243.7" r="2.15"/>
<circle cx="346.9" cy="239.1" r="2.15"/>
<circle cx="350.2" cy="242.9" r="2.15"/>
<circle cx="354.6" cy="244.9" r="2.15"/>
<circle cx="358.1" cy="241.2" r="2.15"/>
<circle cx="356.7" cy="243.7" r="2.15"/>
<circle cx="357.0" cy="240.7" r="2.15"/>
<circle cx="357.5" cy="243.3" r="2.15"/>
<circle cx="359.6" cy="236.7" r="2.15"/>
<circle cx="358.9" cy="235.3" r="2.15"/>
<circle cx="357.1" cy="241.9" r="2.15"/>
<circle cx="352.7" cy="246.2" r="2.15"/>
<circle cx="353.9" cy="240.0" r="2.15"/>
</g>
<line x1="333.80" y1="253.41" x2="369.70" y2="237.67" stroke="#c22c4c" stroke-width="0.75"/>
</g>
<text x="338.45" y="231.20" font-size="6.4" textLength="26.6" lengthAdjust="spacingAndGlyphs" fill="#1a1a1a" style="stroke:#1a1a1a;stroke-width:0.08px"><tspan font-style="italic">r</tspan> = 0.61**</text>
<g clip-path="url(#c53)" fill="none" stroke-width="0.65">
<g stroke="#284690" stroke-width="0.75">
<circle cx="380.5" cy="247.4" r="2.15"/>
<circle cx="379.7" cy="253.9" r="2.15"/>
<circle cx="385.1" cy="248.2" r="2.15"/>
<circle cx="383.6" cy="248.6" r="2.15"/>
<circle cx="379.3" cy="253.7" r="2.15"/>
<circle cx="385.1" cy="254.4" r="2.15"/>
<circle cx="383.5" cy="251.0" r="2.15"/>
<circle cx="381.4" cy="245.1" r="2.15"/>
<circle cx="388.9" cy="253.4" r="2.15"/>
<circle cx="382.1" cy="253.8" r="2.15"/>
<circle cx="387.6" cy="247.7" r="2.15"/>
<circle cx="385.3" cy="254.4" r="2.15"/>
<circle cx="384.1" cy="254.3" r="2.15"/>
<circle cx="381.3" cy="248.6" r="2.15"/>
<circle cx="386.6" cy="246.9" r="2.15"/>
<circle cx="382.1" cy="253.6" r="2.15"/>
<circle cx="384.0" cy="252.7" r="2.15"/>
<circle cx="381.3" cy="246.4" r="2.15"/>
<circle cx="382.6" cy="246.6" r="2.15"/>
<circle cx="389.3" cy="247.6" r="2.15"/>
<circle cx="384.8" cy="245.8" r="2.15"/>
<circle cx="384.5" cy="248.6" r="2.15"/>
</g>
<g stroke="#64ae40">
<circle cx="387.1" cy="246.4" r="2.15"/>
<circle cx="389.6" cy="241.9" r="2.15"/>
<circle cx="385.1" cy="240.3" r="2.15"/>
<circle cx="387.5" cy="242.3" r="2.15"/>
<circle cx="388.8" cy="245.7" r="2.15"/>
<circle cx="391.8" cy="241.5" r="2.15"/>
<circle cx="387.8" cy="243.0" r="2.15"/>
<circle cx="392.1" cy="240.0" r="2.15"/>
<circle cx="388.5" cy="245.0" r="2.15"/>
<circle cx="385.7" cy="239.7" r="2.15"/>
<circle cx="391.9" cy="245.1" r="2.15"/>
<circle cx="388.3" cy="237.5" r="2.15"/>
<circle cx="391.3" cy="243.7" r="2.15"/>
<circle cx="390.7" cy="246.8" r="2.15"/>
<circle cx="391.2" cy="240.8" r="2.15"/>
<circle cx="385.6" cy="239.4" r="2.15"/>
<circle cx="390.9" cy="241.7" r="2.15"/>
<circle cx="386.8" cy="238.3" r="2.15"/>
<circle cx="392.5" cy="242.7" r="2.15"/>
<circle cx="388.9" cy="246.9" r="2.15"/>
<circle cx="392.6" cy="236.8" r="2.15"/>
<circle cx="389.7" cy="244.7" r="2.15"/>
<circle cx="388.3" cy="243.7" r="2.15"/>
<circle cx="384.4" cy="239.6" r="2.15"/>
<circle cx="395.2" cy="242.6" r="2.15"/>
<circle cx="393.0" cy="238.4" r="2.15"/>
<circle cx="390.8" cy="242.2" r="2.15"/>
<circle cx="387.8" cy="243.2" r="2.15"/>
<circle cx="391.2" cy="246.9" r="2.15"/>
<circle cx="391.8" cy="240.7" r="2.15"/>
<circle cx="385.9" cy="238.0" r="2.15"/>
<circle cx="394.1" cy="237.5" r="2.15"/>
<circle cx="385.6" cy="238.2" r="2.15"/>
<circle cx="391.1" cy="245.1" r="2.15"/>
<circle cx="392.3" cy="244.9" r="2.15"/>
<circle cx="385.2" cy="236.5" r="2.15"/>
<circle cx="394.3" cy="239.8" r="2.15"/>
<circle cx="393.6" cy="240.1" r="2.15"/>
</g>
<line x1="369.70" y1="255.02" x2="405.60" y2="234.44" stroke="#c22c4c" stroke-width="0.75"/>
</g>
<text x="374.35" y="231.20" font-size="6.4" textLength="26.6" lengthAdjust="spacingAndGlyphs" fill="#1a1a1a" style="stroke:#1a1a1a;stroke-width:0.08px"><tspan font-style="italic">r</tspan> = 0.60**</text>
<g clip-path="url(#c54)" fill="none" stroke-width="0.65">
<g stroke="#284690" stroke-width="0.75">
<circle cx="417.0" cy="247.8" r="2.15"/>
<circle cx="414.8" cy="250.6" r="2.15"/>
<circle cx="417.3" cy="246.9" r="2.15"/>
<circle cx="418.6" cy="247.9" r="2.15"/>
<circle cx="416.7" cy="246.3" r="2.15"/>
<circle cx="412.3" cy="253.0" r="2.15"/>
<circle cx="417.6" cy="251.1" r="2.15"/>
<circle cx="411.6" cy="245.0" r="2.15"/>
<circle cx="412.7" cy="246.5" r="2.15"/>
<circle cx="413.9" cy="248.1" r="2.15"/>
<circle cx="411.6" cy="247.5" r="2.15"/>
<circle cx="416.8" cy="246.3" r="2.15"/>
<circle cx="418.6" cy="249.8" r="2.15"/>
<circle cx="417.5" cy="247.0" r="2.15"/>
<circle cx="415.0" cy="250.9" r="2.15"/>
<circle cx="414.3" cy="244.7" r="2.15"/>
<circle cx="418.5" cy="251.7" r="2.15"/>
<circle cx="413.7" cy="245.0" r="2.15"/>
<circle cx="418.7" cy="250.2" r="2.15"/>
<circle cx="411.7" cy="246.9" r="2.15"/>
<circle cx="412.2" cy="251.9" r="2.15"/>
<circle cx="413.1" cy="253.0" r="2.15"/>
</g>
<g stroke="#64ae40">
<circle cx="421.4" cy="237.0" r="2.15"/>
<circle cx="419.3" cy="245.1" r="2.15"/>
<circle cx="421.0" cy="238.9" r="2.15"/>
<circle cx="419.8" cy="239.4" r="2.15"/>
<circle cx="420.1" cy="236.7" r="2.15"/>
<circle cx="423.4" cy="240.0" r="2.15"/>
<circle cx="419.5" cy="243.8" r="2.15"/>
<circle cx="419.1" cy="239.2" r="2.15"/>
<circle cx="424.7" cy="237.7" r="2.15"/>
<circle cx="421.7" cy="245.2" r="2.15"/>
<circle cx="424.4" cy="238.0" r="2.15"/>
<circle cx="421.0" cy="244.0" r="2.15"/>
<circle cx="421.2" cy="246.5" r="2.15"/>
<circle cx="419.9" cy="246.4" r="2.15"/>
<circle cx="422.2" cy="238.8" r="2.15"/>
<circle cx="421.8" cy="237.7" r="2.15"/>
<circle cx="427.3" cy="239.1" r="2.15"/>
<circle cx="429.7" cy="242.6" r="2.15"/>
<circle cx="423.0" cy="239.0" r="2.15"/>
<circle cx="426.0" cy="238.6" r="2.15"/>
<circle cx="429.3" cy="237.7" r="2.15"/>
<circle cx="424.8" cy="242.1" r="2.15"/>
<circle cx="421.8" cy="244.5" r="2.15"/>
<circle cx="423.2" cy="243.3" r="2.15"/>
<circle cx="425.5" cy="239.6" r="2.15"/>
<circle cx="423.3" cy="237.3" r="2.15"/>
<circle cx="420.6" cy="245.4" r="2.15"/>
<circle cx="422.4" cy="243.4" r="2.15"/>
<circle cx="419.7" cy="242.3" r="2.15"/>
<circle cx="422.9" cy="241.7" r="2.15"/>
<circle cx="422.1" cy="237.0" r="2.15"/>
<circle cx="422.3" cy="238.8" r="2.15"/>
<circle cx="419.9" cy="243.9" r="2.15"/>
<circle cx="421.9" cy="240.6" r="2.15"/>
<circle cx="429.8" cy="244.6" r="2.15"/>
<circle cx="429.5" cy="245.5" r="2.15"/>
<circle cx="420.0" cy="239.3" r="2.15"/>
<circle cx="418.7" cy="243.6" r="2.15"/>
</g>
<line x1="405.60" y1="251.79" x2="441.50" y2="235.25" stroke="#c22c4c" stroke-width="0.75"/>
</g>
<text x="410.25" y="231.20" font-size="6.4" textLength="26.6" lengthAdjust="spacingAndGlyphs" fill="#1a1a1a" style="stroke:#1a1a1a;stroke-width:0.08px"><tspan font-style="italic">r</tspan> = 0.47**</text>
<g clip-path="url(#c55)" fill="none" stroke-width="0.65">
<g stroke="#284690" stroke-width="0.75">
<circle cx="456.9" cy="251.2" r="2.15"/>
<circle cx="448.0" cy="250.9" r="2.15"/>
<circle cx="456.8" cy="249.3" r="2.15"/>
<circle cx="448.2" cy="248.5" r="2.15"/>
<circle cx="451.4" cy="245.5" r="2.15"/>
<circle cx="452.5" cy="243.6" r="2.15"/>
<circle cx="456.2" cy="250.1" r="2.15"/>
<circle cx="453.3" cy="253.1" r="2.15"/>
<circle cx="453.5" cy="246.1" r="2.15"/>
<circle cx="449.6" cy="245.0" r="2.15"/>
<circle cx="447.4" cy="251.4" r="2.15"/>
<circle cx="455.4" cy="246.6" r="2.15"/>
<circle cx="449.0" cy="250.1" r="2.15"/>
<circle cx="455.4" cy="253.0" r="2.15"/>
<circle cx="448.8" cy="251.6" r="2.15"/>
<circle cx="455.3" cy="251.1" r="2.15"/>
<circle cx="450.4" cy="245.4" r="2.15"/>
<circle cx="455.2" cy="246.8" r="2.15"/>
<circle cx="450.8" cy="249.2" r="2.15"/>
<circle cx="450.8" cy="252.0" r="2.15"/>
<circle cx="449.5" cy="244.0" r="2.15"/>
<circle cx="452.7" cy="250.0" r="2.15"/>
</g>
<g stroke="#64ae40">
<circle cx="461.4" cy="237.3" r="2.15"/>
<circle cx="461.0" cy="240.5" r="2.15"/>
<circle cx="461.4" cy="245.1" r="2.15"/>
<circle cx="457.6" cy="237.3" r="2.15"/>
<circle cx="463.0" cy="240.8" r="2.15"/>
<circle cx="462.9" cy="243.7" r="2.15"/>
<circle cx="461.3" cy="245.1" r="2.15"/>
<circle cx="460.4" cy="241.1" r="2.15"/>
<circle cx="455.7" cy="243.8" r="2.15"/>
<circle cx="458.8" cy="241.8" r="2.15"/>
<circle cx="462.9" cy="237.7" r="2.15"/>
<circle cx="461.5" cy="236.8" r="2.15"/>
<circle cx="461.0" cy="244.9" r="2.15"/>
<circle cx="457.4" cy="242.1" r="2.15"/>
<circle cx="463.2" cy="243.1" r="2.15"/>
<circle cx="459.7" cy="239.0" r="2.15"/>
<circle cx="456.1" cy="240.1" r="2.15"/>
<circle cx="460.9" cy="238.5" r="2.15"/>
<circle cx="459.5" cy="237.8" r="2.15"/>
<circle cx="464.9" cy="243.5" r="2.15"/>
<circle cx="458.5" cy="238.9" r="2.15"/>
<circle cx="462.3" cy="241.1" r="2.15"/>
<circle cx="468.1" cy="240.1" r="2.15"/>
<circle cx="459.4" cy="245.7" r="2.15"/>
<circle cx="457.2" cy="242.3" r="2.15"/>
<circle cx="459.8" cy="245.0" r="2.15"/>
<circle cx="462.8" cy="244.4" r="2.15"/>
<circle cx="457.6" cy="243.4" r="2.15"/>
<circle cx="463.5" cy="241.2" r="2.15"/>
<circle cx="465.7" cy="245.2" r="2.15"/>
<circle cx="456.8" cy="239.4" r="2.15"/>
<circle cx="460.2" cy="238.5" r="2.15"/>
<circle cx="456.1" cy="239.3" r="2.15"/>
<circle cx="458.0" cy="243.8" r="2.15"/>
<circle cx="461.4" cy="237.5" r="2.15"/>
<circle cx="459.7" cy="241.3" r="2.15"/>
<circle cx="460.2" cy="238.1" r="2.15"/>
<circle cx="456.2" cy="236.5" r="2.15"/>
</g>
<line x1="441.50" y1="250.58" x2="477.40" y2="238.88" stroke="#c22c4c" stroke-width="0.75"/>
</g>
<text x="446.15" y="231.20" font-size="6.4" textLength="26.6" lengthAdjust="spacingAndGlyphs" fill="#1a1a1a" style="stroke:#1a1a1a;stroke-width:0.08px"><tspan font-style="italic">r</tspan> = 0.46**</text>
<g clip-path="url(#c60)" fill="none" stroke-width="0.65">
<g stroke="#284690" stroke-width="0.75">
<circle cx="269.5" cy="285.7" r="2.15"/>
<circle cx="277.0" cy="290.6" r="2.15"/>
<circle cx="269.4" cy="294.7" r="2.15"/>
<circle cx="270.8" cy="284.6" r="2.15"/>
<circle cx="273.5" cy="286.7" r="2.15"/>
<circle cx="273.1" cy="290.7" r="2.15"/>
<circle cx="270.5" cy="290.9" r="2.15"/>
<circle cx="269.4" cy="290.1" r="2.15"/>
<circle cx="274.1" cy="284.4" r="2.15"/>
<circle cx="272.3" cy="284.3" r="2.15"/>
<circle cx="272.6" cy="294.7" r="2.15"/>
<circle cx="273.7" cy="292.8" r="2.15"/>
<circle cx="275.7" cy="284.9" r="2.15"/>
<circle cx="278.0" cy="292.9" r="2.15"/>
<circle cx="269.3" cy="294.3" r="2.15"/>
<circle cx="272.2" cy="285.6" r="2.15"/>
<circle cx="277.7" cy="290.8" r="2.15"/>
<circle cx="275.9" cy="285.2" r="2.15"/>
<circle cx="275.9" cy="284.1" r="2.15"/>
<circle cx="270.6" cy="288.3" r="2.15"/>
<circle cx="268.5" cy="291.2" r="2.15"/>
<circle cx="270.4" cy="287.3" r="2.15"/>
</g>
<g stroke="#64ae40">
<circle cx="276.6" cy="283.6" r="2.15"/>
<circle cx="277.1" cy="286.1" r="2.15"/>
<circle cx="274.8" cy="281.4" r="2.15"/>
<circle cx="272.9" cy="279.4" r="2.15"/>
<circle cx="275.3" cy="277.1" r="2.15"/>
<circle cx="275.9" cy="278.0" r="2.15"/>
<circle cx="274.5" cy="286.3" r="2.15"/>
<circle cx="272.5" cy="276.7" r="2.15"/>
<circle cx="274.5" cy="278.2" r="2.15"/>
<circle cx="276.1" cy="276.3" r="2.15"/>
<circle cx="276.7" cy="285.1" r="2.15"/>
<circle cx="276.4" cy="280.7" r="2.15"/>
<circle cx="273.6" cy="283.1" r="2.15"/>
<circle cx="274.9" cy="280.6" r="2.15"/>
<circle cx="273.9" cy="280.8" r="2.15"/>
<circle cx="275.7" cy="284.8" r="2.15"/>
<circle cx="277.1" cy="278.0" r="2.15"/>
<circle cx="273.7" cy="280.9" r="2.15"/>
<circle cx="275.2" cy="279.9" r="2.15"/>
<circle cx="273.1" cy="277.1" r="2.15"/>
<circle cx="276.8" cy="281.0" r="2.15"/>
<circle cx="286.2" cy="285.7" r="2.15"/>
<circle cx="284.7" cy="286.4" r="2.15"/>
<circle cx="286.1" cy="282.7" r="2.15"/>
<circle cx="283.9" cy="276.9" r="2.15"/>
<circle cx="281.9" cy="282.6" r="2.15"/>
<circle cx="276.4" cy="282.2" r="2.15"/>
<circle cx="286.0" cy="281.2" r="2.15"/>
<circle cx="281.5" cy="279.4" r="2.15"/>
<circle cx="277.1" cy="285.5" r="2.15"/>
<circle cx="272.5" cy="278.2" r="2.15"/>
<circle cx="282.0" cy="280.9" r="2.15"/>
<circle cx="273.3" cy="283.1" r="2.15"/>
<circle cx="277.5" cy="282.3" r="2.15"/>
<circle cx="278.1" cy="281.8" r="2.15"/>
<circle cx="280.3" cy="280.4" r="2.15"/>
</g>
<line x1="262.00" y1="291.17" x2="297.90" y2="275.13" stroke="#c22c4c" stroke-width="0.75"/>
</g>
<text x="266.65" y="271.20" font-size="6.4" textLength="26.6" lengthAdjust="spacingAndGlyphs" fill="#1a1a1a" style="stroke:#1a1a1a;stroke-width:0.08px"><tspan font-style="italic">r</tspan> = 0.38**</text>
<g clip-path="url(#c61)" fill="none" stroke-width="0.65">
<g stroke="#284690" stroke-width="0.75">
<circle cx="303.9" cy="292.8" r="2.15"/>
<circle cx="307.1" cy="287.8" r="2.15"/>
<circle cx="308.4" cy="296.4" r="2.15"/>
<circle cx="304.3" cy="288.9" r="2.15"/>
<circle cx="310.4" cy="290.1" r="2.15"/>
<circle cx="306.5" cy="292.1" r="2.15"/>
<circle cx="306.4" cy="292.7" r="2.15"/>
<circle cx="309.0" cy="296.2" r="2.15"/>
<circle cx="313.6" cy="288.0" r="2.15"/>
<circle cx="309.3" cy="294.5" r="2.15"/>
<circle cx="312.4" cy="294.5" r="2.15"/>
<circle cx="310.1" cy="293.3" r="2.15"/>
<circle cx="307.4" cy="290.2" r="2.15"/>
<circle cx="311.6" cy="295.4" r="2.15"/>
<circle cx="313.0" cy="293.7" r="2.15"/>
<circle cx="306.8" cy="294.4" r="2.15"/>
<circle cx="311.1" cy="292.2" r="2.15"/>
<circle cx="310.1" cy="290.8" r="2.15"/>
<circle cx="309.2" cy="291.3" r="2.15"/>
<circle cx="304.4" cy="290.7" r="2.15"/>
<circle cx="307.0" cy="296.4" r="2.15"/>
<circle cx="308.6" cy="290.9" r="2.15"/>
</g>
<g stroke="#64ae40">
<circle cx="316.3" cy="281.4" r="2.15"/>
<circle cx="318.2" cy="284.3" r="2.15"/>
<circle cx="318.1" cy="283.4" r="2.15"/>
<circle cx="318.6" cy="288.0" r="2.15"/>
<circle cx="310.5" cy="286.1" r="2.15"/>
<circle cx="312.3" cy="286.4" r="2.15"/>
<circle cx="316.0" cy="287.3" r="2.15"/>
<circle cx="310.0" cy="280.6" r="2.15"/>
<circle cx="316.6" cy="289.1" r="2.15"/>
<circle cx="316.4" cy="275.8" r="2.15"/>
<circle cx="315.2" cy="276.6" r="2.15"/>
<circle cx="314.6" cy="287.0" r="2.15"/>
<circle cx="309.9" cy="288.8" r="2.15"/>
<circle cx="315.9" cy="278.9" r="2.15"/>
<circle cx="310.7" cy="281.7" r="2.15"/>
<circle cx="317.7" cy="283.7" r="2.15"/>
<circle cx="310.7" cy="275.5" r="2.15"/>
<circle cx="310.6" cy="286.9" r="2.15"/>
<circle cx="312.0" cy="283.3" r="2.15"/>
<circle cx="313.9" cy="285.3" r="2.15"/>
<circle cx="315.5" cy="277.3" r="2.15"/>
<circle cx="324.4" cy="283.1" r="2.15"/>
<circle cx="321.1" cy="287.0" r="2.15"/>
<circle cx="325.7" cy="275.4" r="2.15"/>
<circle cx="314.8" cy="277.4" r="2.15"/>
<circle cx="317.7" cy="288.0" r="2.15"/>
<circle cx="323.1" cy="275.7" r="2.15"/>
<circle cx="311.9" cy="287.2" r="2.15"/>
<circle cx="320.9" cy="280.9" r="2.15"/>
<circle cx="317.2" cy="277.5" r="2.15"/>
<circle cx="323.9" cy="280.9" r="2.15"/>
<circle cx="324.4" cy="284.1" r="2.15"/>
<circle cx="310.0" cy="280.0" r="2.15"/>
<circle cx="312.5" cy="288.3" r="2.15"/>
<circle cx="319.3" cy="275.8" r="2.15"/>
<circle cx="311.7" cy="280.5" r="2.15"/>
<circle cx="317.1" cy="283.6" r="2.15"/>
<circle cx="315.6" cy="280.3" r="2.15"/>
</g>
<line x1="297.90" y1="296.78" x2="333.80" y2="274.32" stroke="#c22c4c" stroke-width="0.75"/>
</g>
<text x="302.55" y="271.20" font-size="6.4" textLength="26.6" lengthAdjust="spacingAndGlyphs" fill="#1a1a1a" style="stroke:#1a1a1a;stroke-width:0.08px"><tspan font-style="italic">r</tspan> = 0.60**</text>
<g clip-path="url(#c62)" fill="none" stroke-width="0.65">
<g stroke="#284690" stroke-width="0.75">
<circle cx="355.4" cy="289.2" r="2.15"/>
<circle cx="349.0" cy="294.4" r="2.15"/>
<circle cx="344.0" cy="289.5" r="2.15"/>
<circle cx="341.1" cy="289.9" r="2.15"/>
<circle cx="351.6" cy="289.5" r="2.15"/>
<circle cx="352.4" cy="292.1" r="2.15"/>
<circle cx="347.7" cy="293.3" r="2.15"/>
<circle cx="348.0" cy="293.9" r="2.15"/>
<circle cx="348.8" cy="291.3" r="2.15"/>
<circle cx="351.2" cy="290.8" r="2.15"/>
<circle cx="350.7" cy="294.7" r="2.15"/>
<circle cx="351.8" cy="291.2" r="2.15"/>
<circle cx="351.7" cy="296.4" r="2.15"/>
<circle cx="346.2" cy="290.9" r="2.15"/>
<circle cx="347.4" cy="296.1" r="2.15"/>
<circle cx="340.6" cy="288.8" r="2.15"/>
<circle cx="346.6" cy="293.9" r="2.15"/>
<circle cx="351.7" cy="291.6" r="2.15"/>
<circle cx="355.5" cy="290.5" r="2.15"/>
<circle cx="351.4" cy="289.5" r="2.15"/>
<circle cx="338.8" cy="289.8" r="2.15"/>
<circle cx="339.4" cy="292.7" r="2.15"/>
</g>
<g stroke="#64ae40">
<circle cx="346.8" cy="278.7" r="2.15"/>
<circle cx="347.8" cy="277.7" r="2.15"/>
<circle cx="344.4" cy="285.3" r="2.15"/>
<circle cx="348.9" cy="280.9" r="2.15"/>
<circle cx="350.0" cy="279.4" r="2.15"/>
<circle cx="346.0" cy="276.9" r="2.15"/>
<circle cx="347.4" cy="279.5" r="2.15"/>
<circle cx="351.6" cy="282.0" r="2.15"/>
<circle cx="353.7" cy="279.8" r="2.15"/>
<circle cx="353.6" cy="282.3" r="2.15"/>
<circle cx="345.2" cy="278.1" r="2.15"/>
<circle cx="350.2" cy="286.5" r="2.15"/>
<circle cx="347.9" cy="284.3" r="2.15"/>
<circle cx="348.6" cy="285.3" r="2.15"/>
<circle cx="345.0" cy="281.3" r="2.15"/>
<circle cx="353.4" cy="279.1" r="2.15"/>
<circle cx="348.7" cy="276.5" r="2.15"/>
<circle cx="347.1" cy="279.0" r="2.15"/>
<circle cx="356.1" cy="278.5" r="2.15"/>
<circle cx="351.0" cy="278.3" r="2.15"/>
<circle cx="354.4" cy="285.2" r="2.15"/>
<circle cx="355.2" cy="278.3" r="2.15"/>
<circle cx="356.6" cy="286.3" r="2.15"/>
<circle cx="354.4" cy="277.1" r="2.15"/>
<circle cx="357.9" cy="285.4" r="2.15"/>
<circle cx="350.0" cy="277.7" r="2.15"/>
<circle cx="347.5" cy="281.8" r="2.15"/>
<circle cx="359.0" cy="282.9" r="2.15"/>
<circle cx="359.8" cy="278.5" r="2.15"/>
<circle cx="349.8" cy="284.0" r="2.15"/>
<circle cx="355.2" cy="280.5" r="2.15"/>
<circle cx="355.7" cy="279.8" r="2.15"/>
<circle cx="345.3" cy="280.6" r="2.15"/>
<circle cx="345.1" cy="282.8" r="2.15"/>
<circle cx="349.9" cy="281.4" r="2.15"/>
<circle cx="354.3" cy="278.9" r="2.15"/>
<circle cx="352.1" cy="276.4" r="2.15"/>
<circle cx="359.8" cy="282.1" r="2.15"/>
</g>
<line x1="333.80" y1="298.79" x2="369.70" y2="275.13" stroke="#c22c4c" stroke-width="0.75"/>
</g>
<text x="338.45" y="271.20" font-size="6.4" textLength="26.6" lengthAdjust="spacingAndGlyphs" fill="#1a1a1a" style="stroke:#1a1a1a;stroke-width:0.08px"><tspan font-style="italic">r</tspan> = 0.60**</text>
<g clip-path="url(#c63)" fill="none" stroke-width="0.65">
<g stroke="#284690" stroke-width="0.75">
<circle cx="378.8" cy="288.9" r="2.15"/>
<circle cx="387.0" cy="288.1" r="2.15"/>
<circle cx="382.2" cy="296.3" r="2.15"/>
<circle cx="387.5" cy="296.0" r="2.15"/>
<circle cx="391.2" cy="287.6" r="2.15"/>
<circle cx="380.7" cy="295.1" r="2.15"/>
<circle cx="387.1" cy="287.6" r="2.15"/>
<circle cx="384.5" cy="289.5" r="2.15"/>
<circle cx="383.5" cy="288.3" r="2.15"/>
<circle cx="377.7" cy="297.1" r="2.15"/>
<circle cx="381.9" cy="295.9" r="2.15"/>
<circle cx="379.1" cy="292.1" r="2.15"/>
<circle cx="379.4" cy="291.5" r="2.15"/>
<circle cx="380.0" cy="294.0" r="2.15"/>
<circle cx="379.5" cy="294.6" r="2.15"/>
<circle cx="384.5" cy="288.4" r="2.15"/>
<circle cx="382.4" cy="292.2" r="2.15"/>
<circle cx="390.3" cy="290.7" r="2.15"/>
<circle cx="380.5" cy="296.8" r="2.15"/>
<circle cx="389.8" cy="294.5" r="2.15"/>
<circle cx="381.3" cy="289.0" r="2.15"/>
<circle cx="381.2" cy="287.9" r="2.15"/>
</g>
<g stroke="#64ae40">
<circle cx="389.2" cy="276.6" r="2.15"/>
<circle cx="393.1" cy="278.9" r="2.15"/>
<circle cx="385.2" cy="276.6" r="2.15"/>
<circle cx="391.1" cy="285.9" r="2.15"/>
<circle cx="385.3" cy="274.7" r="2.15"/>
<circle cx="391.5" cy="277.4" r="2.15"/>
<circle cx="393.6" cy="280.6" r="2.15"/>
<circle cx="390.1" cy="278.7" r="2.15"/>
<circle cx="391.7" cy="280.1" r="2.15"/>
<circle cx="386.9" cy="285.6" r="2.15"/>
<circle cx="384.7" cy="283.5" r="2.15"/>
<circle cx="384.3" cy="282.4" r="2.15"/>
<circle cx="387.7" cy="285.2" r="2.15"/>
<circle cx="384.3" cy="281.4" r="2.15"/>
<circle cx="387.8" cy="285.8" r="2.15"/>
<circle cx="393.2" cy="282.2" r="2.15"/>
<circle cx="387.4" cy="277.5" r="2.15"/>
<circle cx="388.1" cy="279.8" r="2.15"/>
<circle cx="387.5" cy="276.9" r="2.15"/>
<circle cx="396.4" cy="282.4" r="2.15"/>
<circle cx="388.7" cy="286.8" r="2.15"/>
<circle cx="387.3" cy="281.5" r="2.15"/>
<circle cx="386.3" cy="285.1" r="2.15"/>
<circle cx="398.3" cy="277.7" r="2.15"/>
<circle cx="396.3" cy="284.6" r="2.15"/>
<circle cx="388.4" cy="278.5" r="2.15"/>
<circle cx="391.8" cy="285.5" r="2.15"/>
<circle cx="386.4" cy="282.9" r="2.15"/>
<circle cx="393.7" cy="280.0" r="2.15"/>
<circle cx="393.4" cy="285.4" r="2.15"/>
<circle cx="387.2" cy="285.4" r="2.15"/>
<circle cx="389.7" cy="284.1" r="2.15"/>
<circle cx="398.2" cy="276.6" r="2.15"/>
<circle cx="398.2" cy="286.8" r="2.15"/>
<circle cx="388.6" cy="274.7" r="2.15"/>
<circle cx="385.5" cy="286.5" r="2.15"/>
<circle cx="383.8" cy="285.7" r="2.15"/>
<circle cx="386.2" cy="283.6" r="2.15"/>
</g>
<line x1="369.70" y1="299.19" x2="405.60" y2="269.51" stroke="#c22c4c" stroke-width="0.75"/>
</g>
<text x="374.35" y="271.20" font-size="6.4" textLength="26.6" lengthAdjust="spacingAndGlyphs" fill="#1a1a1a" style="stroke:#1a1a1a;stroke-width:0.08px"><tspan font-style="italic">r</tspan> = 0.66**</text>
<g clip-path="url(#c64)" fill="none" stroke-width="0.65">
<g stroke="#284690" stroke-width="0.75">
<circle cx="413.8" cy="294.6" r="2.15"/>
<circle cx="417.0" cy="292.0" r="2.15"/>
<circle cx="421.0" cy="295.6" r="2.15"/>
<circle cx="421.5" cy="283.5" r="2.15"/>
<circle cx="416.1" cy="294.7" r="2.15"/>
<circle cx="420.9" cy="284.6" r="2.15"/>
<circle cx="413.6" cy="286.4" r="2.15"/>
<circle cx="413.0" cy="288.0" r="2.15"/>
<circle cx="420.8" cy="290.3" r="2.15"/>
<circle cx="416.9" cy="284.1" r="2.15"/>
<circle cx="416.2" cy="297.1" r="2.15"/>
<circle cx="419.6" cy="289.3" r="2.15"/>
<circle cx="417.2" cy="294.3" r="2.15"/>
<circle cx="420.3" cy="285.0" r="2.15"/>
<circle cx="419.4" cy="288.1" r="2.15"/>
<circle cx="417.6" cy="286.2" r="2.15"/>
<circle cx="416.0" cy="287.7" r="2.15"/>
<circle cx="416.1" cy="283.1" r="2.15"/>
<circle cx="414.1" cy="291.0" r="2.15"/>
<circle cx="412.5" cy="285.4" r="2.15"/>
<circle cx="419.8" cy="286.8" r="2.15"/>
<circle cx="415.4" cy="286.3" r="2.15"/>
</g>
<g stroke="#64ae40">
<circle cx="418.4" cy="280.7" r="2.15"/>
<circle cx="421.5" cy="281.3" r="2.15"/>
<circle cx="421.1" cy="274.5" r="2.15"/>
<circle cx="423.8" cy="282.5" r="2.15"/>
<circle cx="422.6" cy="281.2" r="2.15"/>
<circle cx="423.8" cy="286.6" r="2.15"/>
<circle cx="425.3" cy="283.3" r="2.15"/>
<circle cx="421.4" cy="278.3" r="2.15"/>
<circle cx="421.5" cy="286.5" r="2.15"/>
<circle cx="421.3" cy="279.2" r="2.15"/>
<circle cx="421.5" cy="276.1" r="2.15"/>
<circle cx="426.4" cy="274.4" r="2.15"/>
<circle cx="423.1" cy="285.9" r="2.15"/>
<circle cx="420.2" cy="282.0" r="2.15"/>
<circle cx="421.2" cy="277.4" r="2.15"/>
<circle cx="419.7" cy="275.8" r="2.15"/>
<circle cx="429.8" cy="284.1" r="2.15"/>
<circle cx="430.7" cy="275.0" r="2.15"/>
<circle cx="427.7" cy="278.4" r="2.15"/>
<circle cx="427.0" cy="281.2" r="2.15"/>
<circle cx="422.4" cy="286.5" r="2.15"/>
<circle cx="418.1" cy="283.7" r="2.15"/>
<circle cx="429.9" cy="280.7" r="2.15"/>
<circle cx="426.3" cy="286.8" r="2.15"/>
<circle cx="421.3" cy="282.2" r="2.15"/>
<circle cx="428.4" cy="279.1" r="2.15"/>
<circle cx="427.9" cy="279.3" r="2.15"/>
<circle cx="425.4" cy="282.0" r="2.15"/>
<circle cx="427.5" cy="278.4" r="2.15"/>
<circle cx="426.8" cy="281.1" r="2.15"/>
<circle cx="421.2" cy="282.0" r="2.15"/>
<circle cx="421.7" cy="285.7" r="2.15"/>
<circle cx="424.6" cy="283.4" r="2.15"/>
<circle cx="425.3" cy="280.3" r="2.15"/>
<circle cx="421.1" cy="276.1" r="2.15"/>
<circle cx="430.9" cy="281.0" r="2.15"/>
<circle cx="425.3" cy="280.9" r="2.15"/>
<circle cx="429.4" cy="277.3" r="2.15"/>
</g>
<line x1="405.60" y1="297.98" x2="441.50" y2="269.51" stroke="#c22c4c" stroke-width="0.75"/>
</g>
<text x="410.25" y="271.20" font-size="6.4" textLength="26.6" lengthAdjust="spacingAndGlyphs" fill="#1a1a1a" style="stroke:#1a1a1a;stroke-width:0.08px"><tspan font-style="italic">r</tspan> = 0.66**</text>
<g clip-path="url(#c65)" fill="none" stroke-width="0.65">
<g stroke="#284690" stroke-width="0.75">
<circle cx="446.4" cy="297.0" r="2.15"/>
<circle cx="450.9" cy="286.6" r="2.15"/>
<circle cx="451.5" cy="286.5" r="2.15"/>
<circle cx="460.7" cy="290.8" r="2.15"/>
<circle cx="454.8" cy="288.9" r="2.15"/>
<circle cx="447.1" cy="287.2" r="2.15"/>
<circle cx="460.8" cy="294.3" r="2.15"/>
<circle cx="460.6" cy="286.5" r="2.15"/>
<circle cx="449.6" cy="283.6" r="2.15"/>
<circle cx="455.3" cy="288.2" r="2.15"/>
<circle cx="454.0" cy="289.8" r="2.15"/>
<circle cx="456.1" cy="288.1" r="2.15"/>
<circle cx="459.7" cy="285.7" r="2.15"/>
<circle cx="461.7" cy="290.8" r="2.15"/>
<circle cx="447.1" cy="287.3" r="2.15"/>
<circle cx="455.2" cy="288.7" r="2.15"/>
<circle cx="455.7" cy="287.5" r="2.15"/>
<circle cx="450.8" cy="294.2" r="2.15"/>
<circle cx="451.1" cy="293.0" r="2.15"/>
<circle cx="459.7" cy="291.3" r="2.15"/>
<circle cx="453.9" cy="296.2" r="2.15"/>
<circle cx="453.7" cy="295.4" r="2.15"/>
</g>
<g stroke="#64ae40">
<circle cx="460.0" cy="277.0" r="2.15"/>
<circle cx="458.2" cy="286.5" r="2.15"/>
<circle cx="454.2" cy="281.1" r="2.15"/>
<circle cx="459.6" cy="283.5" r="2.15"/>
<circle cx="455.8" cy="276.4" r="2.15"/>
<circle cx="456.4" cy="280.4" r="2.15"/>
<circle cx="458.9" cy="279.5" r="2.15"/>
<circle cx="456.1" cy="283.9" r="2.15"/>
<circle cx="459.8" cy="280.2" r="2.15"/>
<circle cx="455.9" cy="283.0" r="2.15"/>
<circle cx="460.8" cy="278.2" r="2.15"/>
<circle cx="461.3" cy="284.7" r="2.15"/>
<circle cx="455.8" cy="284.1" r="2.15"/>
<circle cx="455.4" cy="276.7" r="2.15"/>
<circle cx="459.3" cy="280.6" r="2.15"/>
<circle cx="457.2" cy="282.0" r="2.15"/>
<circle cx="466.1" cy="285.2" r="2.15"/>
<circle cx="452.7" cy="283.2" r="2.15"/>
<circle cx="459.4" cy="281.6" r="2.15"/>
<circle cx="465.2" cy="281.0" r="2.15"/>
<circle cx="459.6" cy="286.9" r="2.15"/>
<circle cx="459.1" cy="281.9" r="2.15"/>
<circle cx="460.2" cy="286.1" r="2.15"/>
<circle cx="462.6" cy="285.0" r="2.15"/>
<circle cx="458.5" cy="276.4" r="2.15"/>
<circle cx="462.8" cy="282.7" r="2.15"/>
<circle cx="464.1" cy="285.4" r="2.15"/>
<circle cx="454.2" cy="278.6" r="2.15"/>
<circle cx="453.5" cy="286.0" r="2.15"/>
<circle cx="453.9" cy="276.9" r="2.15"/>
<circle cx="463.9" cy="282.8" r="2.15"/>
<circle cx="453.2" cy="284.3" r="2.15"/>
<circle cx="463.2" cy="281.8" r="2.15"/>
<circle cx="453.2" cy="284.4" r="2.15"/>
<circle cx="458.7" cy="283.1" r="2.15"/>
<circle cx="467.6" cy="286.0" r="2.15"/>
<circle cx="465.7" cy="277.7" r="2.15"/>
<circle cx="457.5" cy="282.3" r="2.15"/>
</g>
<line x1="441.50" y1="295.18" x2="477.40" y2="275.13" stroke="#c22c4c" stroke-width="0.75"/>
</g>
<text x="446.15" y="271.20" font-size="6.4" textLength="26.6" lengthAdjust="spacingAndGlyphs" fill="#1a1a1a" style="stroke:#1a1a1a;stroke-width:0.08px"><tspan font-style="italic">r</tspan> = 0.52**</text>
<g clip-path="url(#c66)" fill="none" stroke-width="0.65">
<g stroke="#284690" stroke-width="0.75">
<circle cx="488.3" cy="296.1" r="2.15"/>
<circle cx="495.5" cy="289.5" r="2.15"/>
<circle cx="496.5" cy="287.6" r="2.15"/>
<circle cx="492.4" cy="296.8" r="2.15"/>
<circle cx="489.2" cy="296.6" r="2.15"/>
<circle cx="493.1" cy="287.7" r="2.15"/>
<circle cx="489.0" cy="291.7" r="2.15"/>
<circle cx="488.0" cy="294.6" r="2.15"/>
<circle cx="487.1" cy="295.0" r="2.15"/>
<circle cx="488.6" cy="287.9" r="2.15"/>
<circle cx="491.9" cy="288.2" r="2.15"/>
<circle cx="491.8" cy="295.1" r="2.15"/>
<circle cx="492.4" cy="291.8" r="2.15"/>
<circle cx="485.3" cy="292.3" r="2.15"/>
<circle cx="486.1" cy="293.7" r="2.15"/>
<circle cx="486.5" cy="293.0" r="2.15"/>
<circle cx="489.3" cy="291.0" r="2.15"/>
<circle cx="493.2" cy="288.9" r="2.15"/>
<circle cx="487.0" cy="296.6" r="2.15"/>
<circle cx="489.0" cy="295.6" r="2.15"/>
<circle cx="495.9" cy="292.0" r="2.15"/>
<circle cx="486.7" cy="288.2" r="2.15"/>
</g>
<g stroke="#64ae40">
<circle cx="493.0" cy="280.4" r="2.15"/>
<circle cx="497.3" cy="275.0" r="2.15"/>
<circle cx="499.0" cy="275.3" r="2.15"/>
<circle cx="497.0" cy="276.9" r="2.15"/>
<circle cx="499.5" cy="282.1" r="2.15"/>
<circle cx="498.6" cy="281.3" r="2.15"/>
<circle cx="497.6" cy="283.7" r="2.15"/>
<circle cx="494.8" cy="277.3" r="2.15"/>
<circle cx="498.8" cy="276.4" r="2.15"/>
<circle cx="499.4" cy="277.2" r="2.15"/>
<circle cx="493.3" cy="275.7" r="2.15"/>
<circle cx="498.4" cy="287.6" r="2.15"/>
<circle cx="495.7" cy="283.5" r="2.15"/>
<circle cx="494.5" cy="286.9" r="2.15"/>
<circle cx="497.7" cy="276.5" r="2.15"/>
<circle cx="493.0" cy="284.0" r="2.15"/>
<circle cx="493.1" cy="286.0" r="2.15"/>
<circle cx="496.2" cy="277.6" r="2.15"/>
<circle cx="499.8" cy="278.8" r="2.15"/>
<circle cx="499.6" cy="276.5" r="2.15"/>
<circle cx="503.9" cy="278.9" r="2.15"/>
<circle cx="503.1" cy="276.5" r="2.15"/>
<circle cx="502.5" cy="288.0" r="2.15"/>
<circle cx="497.4" cy="274.8" r="2.15"/>
<circle cx="497.3" cy="283.3" r="2.15"/>
<circle cx="495.3" cy="281.9" r="2.15"/>
<circle cx="493.7" cy="280.8" r="2.15"/>
<circle cx="501.7" cy="280.3" r="2.15"/>
<circle cx="501.0" cy="275.9" r="2.15"/>
<circle cx="502.9" cy="276.0" r="2.15"/>
<circle cx="504.1" cy="288.2" r="2.15"/>
<circle cx="504.3" cy="281.7" r="2.15"/>
<circle cx="496.2" cy="279.2" r="2.15"/>
<circle cx="501.9" cy="281.3" r="2.15"/>
<circle cx="504.2" cy="275.6" r="2.15"/>
<circle cx="498.6" cy="286.4" r="2.15"/>
<circle cx="500.0" cy="281.9" r="2.15"/>
<circle cx="493.7" cy="276.3" r="2.15"/>
</g>
<line x1="477.40" y1="303.60" x2="513.30" y2="266.71" stroke="#c22c4c" stroke-width="0.75"/>
</g>
<text x="482.05" y="271.20" font-size="6.4" textLength="26.6" lengthAdjust="spacingAndGlyphs" fill="#1a1a1a" style="stroke:#1a1a1a;stroke-width:0.08px"><tspan font-style="italic">r</tspan> = 0.73**</text>
<line x1="262.00" y1="22.45" x2="297.90" y2="22.45" stroke="#1e1e1e" stroke-width="1.2"/>
<line x1="297.90" y1="22.45" x2="297.90" y2="62.50" stroke="#1e1e1e" stroke-width="1.2"/>
<line x1="262.00" y1="62.50" x2="333.80" y2="62.50" stroke="#1e1e1e" stroke-width="1.2"/>
<line x1="333.80" y1="62.50" x2="333.80" y2="102.95" stroke="#1e1e1e" stroke-width="1.2"/>
<line x1="262.00" y1="102.95" x2="369.70" y2="102.95" stroke="#1e1e1e" stroke-width="1.2"/>
<line x1="369.70" y1="102.95" x2="369.70" y2="143.30" stroke="#1e1e1e" stroke-width="1.2"/>
<line x1="262.00" y1="143.30" x2="405.60" y2="143.30" stroke="#1e1e1e" stroke-width="1.2"/>
<line x1="405.60" y1="143.30" x2="405.60" y2="183.50" stroke="#1e1e1e" stroke-width="1.2"/>
<line x1="262.00" y1="183.50" x2="441.50" y2="183.50" stroke="#1e1e1e" stroke-width="1.2"/>
<line x1="441.50" y1="183.50" x2="441.50" y2="223.95" stroke="#1e1e1e" stroke-width="1.2"/>
<line x1="262.00" y1="223.95" x2="477.40" y2="223.95" stroke="#1e1e1e" stroke-width="1.2"/>
<line x1="477.40" y1="223.95" x2="477.40" y2="264.30" stroke="#1e1e1e" stroke-width="1.2"/>
<line x1="262.00" y1="264.30" x2="513.30" y2="264.30" stroke="#1e1e1e" stroke-width="1.2"/>
<line x1="513.30" y1="264.30" x2="513.30" y2="304.40" stroke="#1e1e1e" stroke-width="1.2"/>
<line x1="262.00" y1="304.40" x2="513.30" y2="304.40" stroke="#1e1e1e" stroke-width="1.2"/>
<line x1="262.00" y1="22.45" x2="262.00" y2="304.40" stroke="#1e1e1e" stroke-width="1.2"/>
<line x1="297.90" y1="62.50" x2="297.90" y2="304.40" stroke="#1e1e1e" stroke-width="1.2"/>
<line x1="333.80" y1="102.95" x2="333.80" y2="304.40" stroke="#1e1e1e" stroke-width="1.2"/>
<line x1="369.70" y1="143.30" x2="369.70" y2="304.40" stroke="#1e1e1e" stroke-width="1.2"/>
<line x1="405.60" y1="183.50" x2="405.60" y2="304.40" stroke="#1e1e1e" stroke-width="1.2"/>
<line x1="441.50" y1="223.95" x2="441.50" y2="304.40" stroke="#1e1e1e" stroke-width="1.2"/>
<line x1="477.40" y1="264.30" x2="477.40" y2="304.40" stroke="#1e1e1e" stroke-width="1.2"/>
<text x="257.50" y="42.48" font-size="8.2" textLength="26.60" lengthAdjust="spacingAndGlyphs" text-anchor="middle" transform="rotate(-90 257.50 42.48)" style="stroke:#1a1a1a;stroke-width:0.12px">CD 40L</text>
<text x="257.50" y="82.72" font-size="8.2" textLength="13.00" lengthAdjust="spacingAndGlyphs" text-anchor="middle" transform="rotate(-90 257.50 82.72)" style="stroke:#1a1a1a;stroke-width:0.12px">PF4</text>
<text x="257.50" y="123.12" font-size="8.2" textLength="24.60" lengthAdjust="spacingAndGlyphs" text-anchor="middle" transform="rotate(-90 257.50 123.12)" style="stroke:#1a1a1a;stroke-width:0.12px">ICAM-1</text>
<text x="257.50" y="163.40" font-size="8.2" textLength="27.50" lengthAdjust="spacingAndGlyphs" text-anchor="middle" transform="rotate(-90 257.50 163.40)" style="stroke:#1a1a1a;stroke-width:0.12px">VCAM-1</text>
<text x="257.50" y="203.72" font-size="8.2" textLength="20.10" lengthAdjust="spacingAndGlyphs" text-anchor="middle" transform="rotate(-90 257.50 203.72)" style="stroke:#1a1a1a;stroke-width:0.12px">VEGF</text>
<text x="257.50" y="244.12" font-size="8.2" textLength="15.90" lengthAdjust="spacingAndGlyphs" text-anchor="middle" transform="rotate(-90 257.50 244.12)" style="stroke:#1a1a1a;stroke-width:0.12px">FLT4</text>
<text x="257.50" y="284.35" font-size="8.2" textLength="17.60" lengthAdjust="spacingAndGlyphs" text-anchor="middle" transform="rotate(-90 257.50 284.35)" style="stroke:#1a1a1a;stroke-width:0.12px">TLR2</text>
<text x="279.95" y="314.60" font-size="8.2" textLength="31.90" lengthAdjust="spacingAndGlyphs" text-anchor="middle" style="stroke:#1a1a1a;stroke-width:0.12px">P-selectin</text>
<text x="315.85" y="314.60" font-size="8.2" textLength="26.60" lengthAdjust="spacingAndGlyphs" text-anchor="middle" style="stroke:#1a1a1a;stroke-width:0.12px">CD 40L</text>
<text x="351.75" y="314.60" font-size="8.2" textLength="13.00" lengthAdjust="spacingAndGlyphs" text-anchor="middle" style="stroke:#1a1a1a;stroke-width:0.12px">PF4</text>
<text x="387.65" y="314.60" font-size="8.2" textLength="24.60" lengthAdjust="spacingAndGlyphs" text-anchor="middle" style="stroke:#1a1a1a;stroke-width:0.12px">ICAM-1</text>
<text x="423.55" y="314.60" font-size="8.2" textLength="27.50" lengthAdjust="spacingAndGlyphs" text-anchor="middle" style="stroke:#1a1a1a;stroke-width:0.12px">VCAM-1</text>
<text x="459.45" y="314.60" font-size="8.2" textLength="20.10" lengthAdjust="spacingAndGlyphs" text-anchor="middle" style="stroke:#1a1a1a;stroke-width:0.12px">VEGF</text>
<text x="495.35" y="314.60" font-size="8.2" textLength="15.90" lengthAdjust="spacingAndGlyphs" text-anchor="middle" style="stroke:#1a1a1a;stroke-width:0.12px">FLT4</text>
<text x="349.30" y="35.60" font-size="7.8" textLength="41.30" lengthAdjust="spacingAndGlyphs">Study groups</text>
<circle cx="351.3" cy="44.4" r="1.8" fill="none" stroke="#64ae40" stroke-width="0.7"/>
<text x="356.00" y="46.80" font-size="7.5" textLength="14.80" lengthAdjust="spacingAndGlyphs">HAP</text>
<circle cx="381.6" cy="44.4" r="1.8" fill="none" stroke="#284690" stroke-width="0.7"/>
<text x="386.00" y="46.80" font-size="7.5" textLength="14.00" lengthAdjust="spacingAndGlyphs">SLP</text>
<text x="349.60" y="67.50" font-size="7.0">**.</text>
<text x="358.60" y="67.50" font-size="7.0" textLength="126.00" lengthAdjust="spacingAndGlyphs">Correlation is significant at the 0.01 level</text>
<text x="359.50" y="75.90" font-size="7.0" textLength="27.50" lengthAdjust="spacingAndGlyphs">(2-tailed)</text>
<text x="349.60" y="84.60" font-size="7.0">*</text>
<text x="358.60" y="84.60" font-size="7.0" textLength="126.00" lengthAdjust="spacingAndGlyphs">Correlation is significant at the 0.05 level</text>
<text x="359.50" y="93.00" font-size="7.0" textLength="27.50" lengthAdjust="spacingAndGlyphs">(2-tailed)</text>
<rect x="0.5" y="0.5" width="519" height="322" fill="none" stroke="#000" stroke-width="1.2"/>
</svg>
</body></html>
